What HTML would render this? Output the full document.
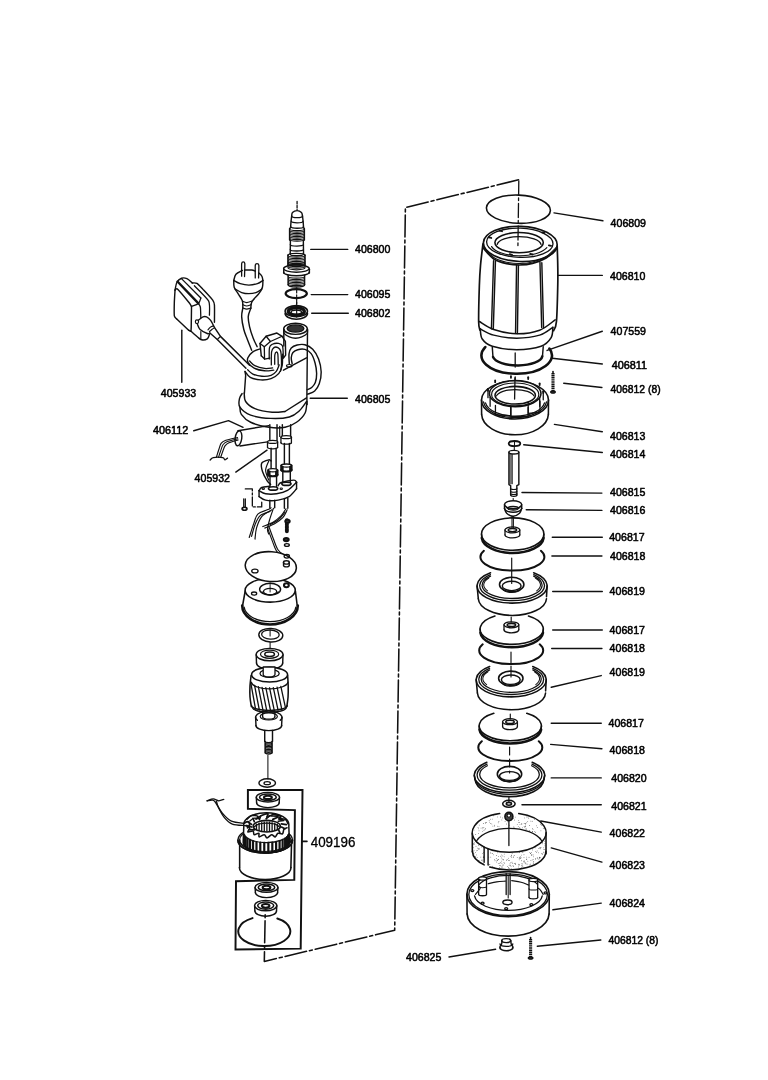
<!DOCTYPE html>
<html lang="en"><head><meta charset="utf-8"><title>Exploded view</title>
<style>
html,body{margin:0;padding:0;background:#fff}
body{width:768px;height:1080px;overflow:hidden}
svg{display:block;will-change:transform}
svg text{font-family:"Liberation Sans",sans-serif;fill:#000;stroke:#000}
</style></head><body>
<svg width="768" height="1080" viewBox="0 0 768 1080" fill="none" stroke="#111" stroke-linecap="round" stroke-linejoin="round">
<rect x="0" y="0" width="768" height="1080" fill="#fff" stroke="none"/>
<text x="610.6" y="227" font-size="11.8" textLength="35.4" lengthAdjust="spacingAndGlyphs" stroke-width="0.55">406809</text>
<text x="610" y="280.3" font-size="11.8" textLength="35.4" lengthAdjust="spacingAndGlyphs" stroke-width="0.55">406810</text>
<text x="610.6" y="334.9" font-size="11.8" textLength="35.4" lengthAdjust="spacingAndGlyphs" stroke-width="0.55">407559</text>
<text x="611.7" y="369.3" font-size="11.8" textLength="35.4" lengthAdjust="spacingAndGlyphs" stroke-width="0.55">406811</text>
<text x="610" y="439.5" font-size="11.8" textLength="35.4" lengthAdjust="spacingAndGlyphs" stroke-width="0.55">406813</text>
<text x="610" y="457.8" font-size="11.8" textLength="35.4" lengthAdjust="spacingAndGlyphs" stroke-width="0.55">406814</text>
<text x="610" y="496.4" font-size="11.8" textLength="35.4" lengthAdjust="spacingAndGlyphs" stroke-width="0.55">406815</text>
<text x="610" y="514.1" font-size="11.8" textLength="35.4" lengthAdjust="spacingAndGlyphs" stroke-width="0.55">406816</text>
<text x="609.2" y="541" font-size="11.8" textLength="35.4" lengthAdjust="spacingAndGlyphs" stroke-width="0.55">406817</text>
<text x="610" y="559.7" font-size="11.8" textLength="35.4" lengthAdjust="spacingAndGlyphs" stroke-width="0.55">406818</text>
<text x="609.6" y="595.1" font-size="11.8" textLength="35.4" lengthAdjust="spacingAndGlyphs" stroke-width="0.55">406819</text>
<text x="609.6" y="634.3" font-size="11.8" textLength="35.4" lengthAdjust="spacingAndGlyphs" stroke-width="0.55">406817</text>
<text x="609.6" y="652.2" font-size="11.8" textLength="35.4" lengthAdjust="spacingAndGlyphs" stroke-width="0.55">406818</text>
<text x="609.6" y="676.2" font-size="11.8" textLength="35.4" lengthAdjust="spacingAndGlyphs" stroke-width="0.55">406819</text>
<text x="608.5" y="727.4" font-size="11.8" textLength="35.4" lengthAdjust="spacingAndGlyphs" stroke-width="0.55">406817</text>
<text x="609.6" y="753.9" font-size="11.8" textLength="35.4" lengthAdjust="spacingAndGlyphs" stroke-width="0.55">406818</text>
<text x="611.25" y="781.6" font-size="11.8" textLength="35.4" lengthAdjust="spacingAndGlyphs" stroke-width="0.55">406820</text>
<text x="611.25" y="809.5" font-size="11.8" textLength="35.4" lengthAdjust="spacingAndGlyphs" stroke-width="0.55">406821</text>
<text x="609.6" y="837.3" font-size="11.8" textLength="35.4" lengthAdjust="spacingAndGlyphs" stroke-width="0.55">406822</text>
<text x="609.6" y="868.9" font-size="11.8" textLength="35.4" lengthAdjust="spacingAndGlyphs" stroke-width="0.55">406823</text>
<text x="609.6" y="906.8" font-size="11.8" textLength="35.4" lengthAdjust="spacingAndGlyphs" stroke-width="0.55">406824</text>
<text x="610.6" y="393" font-size="11.8" textLength="50" lengthAdjust="spacingAndGlyphs" stroke-width="0.55">406812 (8)</text>
<text x="608.5" y="944.3" font-size="11.8" textLength="50" lengthAdjust="spacingAndGlyphs" stroke-width="0.55">406812 (8)</text>
<text x="355" y="252.5" font-size="11.8" textLength="35.4" lengthAdjust="spacingAndGlyphs" stroke-width="0.55">406800</text>
<text x="355" y="297.7" font-size="11.8" textLength="35.4" lengthAdjust="spacingAndGlyphs" stroke-width="0.55">406095</text>
<text x="355" y="316.5" font-size="11.8" textLength="35.4" lengthAdjust="spacingAndGlyphs" stroke-width="0.55">406802</text>
<text x="355" y="402.5" font-size="11.8" textLength="35.4" lengthAdjust="spacingAndGlyphs" stroke-width="0.55">406805</text>
<text x="160.8" y="397" font-size="11.8" textLength="35.4" lengthAdjust="spacingAndGlyphs" stroke-width="0.55">405933</text>
<text x="152.9" y="433.5" font-size="11.8" textLength="35.4" lengthAdjust="spacingAndGlyphs" stroke-width="0.55">406112</text>
<text x="194.6" y="482" font-size="11.8" textLength="35.4" lengthAdjust="spacingAndGlyphs" stroke-width="0.55">405932</text>
<text x="406" y="961" font-size="11.8" textLength="35.4" lengthAdjust="spacingAndGlyphs" stroke-width="0.55">406825</text>
<text x="310.7" y="846.5" font-size="14.6" textLength="44.7" lengthAdjust="spacingAndGlyphs" stroke-width="0.3">409196</text>
<line x1="554" y1="212.9" x2="602.9" y2="220.8" stroke-width="1.43" />
<line x1="558.1" y1="275.4" x2="602.3" y2="275.4" stroke-width="1.43" />
<line x1="547.1" y1="350.4" x2="602.3" y2="331.25" stroke-width="1.43" />
<line x1="552.3" y1="358.3" x2="602.3" y2="364" stroke-width="1.43" />
<line x1="563.75" y1="383.3" x2="601.9" y2="387.5" stroke-width="1.43" />
<line x1="554.4" y1="424.4" x2="602.3" y2="431.7" stroke-width="1.43" />
<line x1="523.75" y1="444.8" x2="602.3" y2="452.5" stroke-width="1.43" />
<line x1="522" y1="492.5" x2="601.9" y2="493.1" stroke-width="1.43" />
<line x1="526.25" y1="509.8" x2="601.9" y2="510.4" stroke-width="1.43" />
<line x1="552.3" y1="537.3" x2="602.3" y2="537.3" stroke-width="1.43" />
<line x1="551.9" y1="556" x2="601.9" y2="556" stroke-width="1.43" />
<line x1="552.7" y1="591.5" x2="602.3" y2="591.5" stroke-width="1.43" />
<line x1="552.7" y1="630" x2="602.3" y2="630" stroke-width="1.43" />
<line x1="551.7" y1="648.5" x2="601.9" y2="648.5" stroke-width="1.43" />
<line x1="551.25" y1="687.3" x2="601.25" y2="675.6" stroke-width="1.43" />
<line x1="551.25" y1="723.3" x2="601.25" y2="723.3" stroke-width="1.43" />
<line x1="550.6" y1="744.4" x2="601.9" y2="748.75" stroke-width="1.43" />
<line x1="551.25" y1="777.9" x2="601.25" y2="777.9" stroke-width="1.43" />
<line x1="522" y1="804.8" x2="601.25" y2="804.8" stroke-width="1.43" />
<line x1="540.8" y1="821" x2="601.25" y2="832.1" stroke-width="1.43" />
<line x1="551.25" y1="847.9" x2="601.9" y2="862.1" stroke-width="1.43" />
<line x1="552.9" y1="909.8" x2="601.25" y2="903.1" stroke-width="1.43" />
<line x1="537.3" y1="946.25" x2="600.8" y2="940" stroke-width="1.43" />
<line x1="310.8" y1="249.4" x2="347.7" y2="249.4" stroke-width="1.43" />
<line x1="311.25" y1="294.6" x2="347.7" y2="294.6" stroke-width="1.43" />
<line x1="311.7" y1="313.3" x2="348.3" y2="313.3" stroke-width="1.43" />
<line x1="181.8" y1="330.2" x2="181.8" y2="382.3" stroke-width="1.43" />
<line x1="235.8" y1="472.1" x2="267" y2="450.2" stroke-width="1.43" />
<path d="M193.75 430.8 L228.5 420.6 L243.1 427.3" stroke-width="1.43" fill="none" />
<path d="M518.5 179.8 L405.4 207.5 L394.7 930.3 L264.3 961.4 L265.2 914" stroke-width="1.56" fill="none" stroke-dasharray="22 3 3 3"/>
<ellipse cx="295.5" cy="328.8" rx="11.8" ry="5.6" stroke-width="1.43" fill="#fff" />
<ellipse cx="295.5" cy="328.5" rx="8.4" ry="3.6" stroke-width="1.3" fill="#333" />
<path d="M283.82 329.77 C283.91 330.42 283.43 332.48 284.34 333.67 C285.26 334.87 287.43 336.17 289.29 336.93 C291.16 337.69 293.46 338.23 295.54 338.23 C297.62 338.23 299.88 337.69 301.79 336.93 C303.7 336.17 306.05 334.87 307 333.67 C307.95 332.48 307.43 330.42 307.52 329.77" stroke-width="1.3" fill="none" />
<path d="M283.82 329.11 L283.82 346.04" stroke-width="1.43" fill="none" />
<path d="M307.52 329.11 L306.87 398.12 L307.13 404.64" stroke-width="1.43" fill="none" />
<path d="M289.29 363.62 C289.25 361.99 288.71 356.46 289.03 353.85 C289.36 351.25 289.9 349.47 291.24 347.99 C292.59 346.52 294.83 345.54 297.1 345 C299.38 344.46 302.31 344.02 304.92 344.74 C307.52 345.46 310.45 346.91 312.73 349.3 C315.01 351.68 317.18 355.26 318.59 359.06 C320 362.86 321.08 367.96 321.19 372.08 C321.3 376.21 320.32 380.66 319.24 383.8 C318.15 386.95 316.64 389.23 314.68 390.96 C312.73 392.7 308.71 393.68 307.52 394.22" stroke-width="1.43" fill="none" />
<path d="M292.16 363.62 C292 362.64 291.11 359.61 291.24 357.76 C291.38 355.92 291.85 353.9 292.94 352.55 C294.02 351.21 295.76 350.21 297.76 349.69 C299.75 349.17 302.68 348.78 304.92 349.43 C307.15 350.08 309.47 351.34 311.17 353.59 C312.86 355.85 314.16 359.67 315.07 362.97 C315.98 366.27 316.59 370.13 316.64 373.39 C316.68 376.64 316.16 380.16 315.33 382.5 C314.51 384.84 313.03 386.25 311.69 387.45 C310.34 388.64 308 389.29 307.26 389.66" stroke-width="1.43" fill="none" />
<path d="M283.43 370.13 L306.48 357.76" stroke-width="1.43" fill="none" />
<ellipse cx="289.29" cy="365.83" rx="2.8" ry="1.3" stroke-width="1.17" fill="none" />
<path d="M261.3 355.81 L259.99 343.44 L266.11 336.28 L276.92 333.02 L282.13 336.28 L285.39 341.48 L285.65 355.16 L283.43 358.02" stroke-width="1.43" fill="none" />
<path d="M259.99 343.44 L264.29 346.69 L270.41 341.48 L266.11 336.28" stroke-width="1.3" fill="none" />
<path d="M264.29 346.69 L264.55 359.06 L261.3 355.81" stroke-width="1.3" fill="none" />
<path d="M270.41 341.48 L282.13 336.28" stroke-width="1.3" fill="none" />
<path d="M264.55 359.06 L269.76 358.02" stroke-width="1.3" fill="none" />
<path d="M269.24 359.06 C269.28 357.15 268.98 350.08 269.5 347.6 C270.02 345.13 270.85 344.91 272.36 344.22 C273.88 343.52 276.92 343.13 278.61 343.44 C280.31 343.74 281.74 343.65 282.52 346.04 C283.3 348.43 283.17 355.81 283.3 357.76" stroke-width="1.3" fill="none" />
<path d="M271.32 364.92 C271.37 362.75 271.15 354.79 271.58 351.9 C272.02 349.01 272.89 348.32 273.93 347.6 C274.97 346.89 276.7 347 277.83 347.6 C278.96 348.21 280.09 348.36 280.7 351.25 C281.31 354.14 281.52 361.56 281.48 364.92 C281.44 368.29 280.61 370.35 280.44 371.43" stroke-width="1.3" fill="none" />
<path d="M274.71 364.27 C274.73 362.71 274.58 356.94 274.84 354.9 C275.1 352.86 275.77 352.16 276.27 352.03 C276.77 351.9 277.51 351.97 277.83 354.11 C278.16 356.26 278.16 363.12 278.22 364.92" stroke-width="1.3" fill="none" />
<path d="M259.99 348.91 C258.8 349.41 254.85 350.43 252.83 351.9 C250.82 353.38 248.64 355.92 247.89 357.76 C247.13 359.61 247.23 361.23 248.28 362.97 C249.32 364.7 251.42 366.88 254.14 368.18 C256.85 369.48 261.3 370.46 264.55 370.78 C267.81 371.11 272.15 370.24 273.67 370.13" stroke-width="1.43" fill="none" />
<path d="M249.58 361.02 C250.45 361.78 252.29 364.34 254.79 365.57 C257.28 366.81 261.58 368.05 264.55 368.44 C267.53 368.83 271.28 368 272.62 367.92" stroke-width="1.3" fill="none" />
<path d="M245.02 371.43 C245.89 372.41 247.62 375.88 250.23 377.29 C252.83 378.7 257.17 379.68 260.65 379.9 C264.12 380.11 268.02 379.68 271.06 378.59 C274.1 377.51 277.03 375.56 278.88 373.39 C280.72 371.22 281.52 368.78 282.13 365.57 C282.74 362.36 282.46 356.02 282.52 354.11" stroke-width="1.43" fill="none" />
<path d="M247.62 369.74 C248.49 370.46 250.45 372.95 252.83 374.04 C255.22 375.12 258.91 376.03 261.95 376.25 C264.99 376.47 268.68 376.14 271.06 375.34 C273.45 374.54 274.93 373.17 276.27 371.43 C277.62 369.7 278.66 366.01 279.14 364.92" stroke-width="1.3" fill="none" />
<path d="M245.02 371.43 L245.67 375.34 L244.37 393.57" stroke-width="1.43" fill="none" />
<path d="M244.21 392.89 C244.45 394.33 243.85 398.86 245.64 401.49 C247.43 404.12 250.53 406.86 254.95 408.65 C259.37 410.44 267.13 411.76 272.14 412.23 C277.16 412.71 282.89 411.64 285.04 411.52" stroke-width="1.43" fill="none" />
<path d="M285.04 411.52 L306.53 397.91" stroke-width="1.43" fill="none" />
<path d="M242.06 393.61 C241.63 394.45 239.84 396.36 239.48 398.62 C239.12 400.89 238.05 404.47 239.91 407.22 C241.77 409.97 245.52 413.24 250.65 415.1 C255.79 416.96 264.26 418.09 270.71 418.4 C277.16 418.71 284.56 418.23 289.34 416.96 C294.11 415.7 296.5 413.38 299.36 410.8 C302.23 408.22 305.33 403.04 306.53 401.49" stroke-width="1.43" fill="none" />
<path d="M239.91 407.22 C240.15 408.41 239.55 411.88 241.34 414.38 C243.13 416.89 246 420.11 250.65 422.26 C255.31 424.41 263.55 426.44 269.28 427.28 C275.01 428.11 280.5 428.11 285.04 427.28 C289.57 426.44 293.16 424.65 296.5 422.26 C299.84 419.88 303.38 416.41 305.09 412.95 C306.81 409.49 306.53 403.4 306.81 401.49" stroke-width="1.43" fill="none" />
<path d="M297.08 201.46 L297.08 209.79" stroke-width="1.3" fill="none" stroke-dasharray="2.5 1.5"/>
<path d="M291.67 216.04 C291.81 215.45 291.6 213.4 292.5 212.5 C293.4 211.6 295.59 210.62 297.08 210.62 C298.58 210.62 300.56 211.6 301.46 212.5 C302.36 213.4 302.33 215.45 302.5 216.04" stroke-width="1.43" fill="none" />
<path d="M302.5 216.04 A5.42 1.6 0 0 1 291.67 216.04" stroke-width="1.3" fill="none" />
<path d="M302.92 221.25 A5.83 1.6 0 0 1 291.25 221.25" stroke-width="1.3" fill="none" />
<path d="M303.33 226.67 A6.25 1.6 0 0 1 290.83 226.67" stroke-width="1.3" fill="none" />
<path d="M291.67 216.04 L291.04 221.25 L290.62 227.08 L289.79 228.75" stroke-width="1.43" fill="none" />
<path d="M302.5 216.04 L303.12 221.25 L303.54 227.08 L304.17 228.75" stroke-width="1.43" fill="none" />
<path d="M304.4 229 A7.4 1.6 0 0 1 289.6 229" stroke-width="1.1" fill="none" />
<path d="M304.4 230.5 A7.4 1.6 0 0 1 289.6 230.5" stroke-width="1.1" fill="none" />
<path d="M304.4 232 A7.4 1.6 0 0 1 289.6 232" stroke-width="1.1" fill="none" />
<path d="M304.4 233.5 A7.4 1.6 0 0 1 289.6 233.5" stroke-width="1.1" fill="none" />
<path d="M304.4 235 A7.4 1.6 0 0 1 289.6 235" stroke-width="1.1" fill="none" />
<path d="M304.4 236.5 A7.4 1.6 0 0 1 289.6 236.5" stroke-width="1.1" fill="none" />
<path d="M304.4 238 A7.4 1.6 0 0 1 289.6 238" stroke-width="1.1" fill="none" />
<path d="M304.4 239.5 A7.4 1.6 0 0 1 289.6 239.5" stroke-width="1.1" fill="none" />
<path d="M289.58 228.75 L289.58 240" stroke-width="1.43" fill="none" />
<path d="M304.38 228.75 L304.38 240" stroke-width="1.43" fill="none" />
<path d="M303.48 244.58 A6.6 1.6 0 0 1 290.27 244.58" stroke-width="1.3" fill="none" />
<path d="M303.48 249.38 A6.6 1.6 0 0 1 290.27 249.38" stroke-width="1.3" fill="none" />
<path d="M303.48 254.17 A6.6 1.6 0 0 1 290.27 254.17" stroke-width="1.3" fill="none" />
<path d="M290.42 240 L290.21 254.17" stroke-width="1.43" fill="none" />
<path d="M303.33 240 L303.54 254.17" stroke-width="1.43" fill="none" />
<path d="M305 255.5 A8.5 1.6 0 0 1 288 255.5" stroke-width="1.1" fill="none" />
<path d="M305 257 A8.5 1.6 0 0 1 288 257" stroke-width="1.1" fill="none" />
<path d="M305 258.5 A8.5 1.6 0 0 1 288 258.5" stroke-width="1.1" fill="none" />
<path d="M305 260 A8.5 1.6 0 0 1 288 260" stroke-width="1.1" fill="none" />
<path d="M305 261.5 A8.5 1.6 0 0 1 288 261.5" stroke-width="1.1" fill="none" />
<path d="M305 263 A8.5 1.6 0 0 1 288 263" stroke-width="1.1" fill="none" />
<path d="M305 264.5 A8.5 1.6 0 0 1 288 264.5" stroke-width="1.1" fill="none" />
<path d="M305 266 A8.5 1.6 0 0 1 288 266" stroke-width="1.1" fill="none" />
<path d="M287.92 255 L287.92 266.67" stroke-width="1.43" fill="none" />
<path d="M305 255 L305 266.67" stroke-width="1.43" fill="none" />
<path d="M288 255.2 A8.5 1.8 0 0 1 305 255.2" stroke-width="1.3" fill="none" />
<ellipse cx="296.4" cy="268.6" rx="12.8" ry="3.6" stroke-width="1.43" fill="#fff" />
<path d="M309.2 272.2 A12.8 3.6 0 0 1 283.6 272.2" stroke-width="1.43" fill="none" />
<path d="M283.75 269.17 L283.75 272.92" stroke-width="1.43" fill="none" />
<path d="M309.38 269.17 L309.38 272.92" stroke-width="1.43" fill="none" />
<path d="M305.1 267.6 A8.6 2.2 0 0 1 287.9 267.6" stroke-width="1.17" fill="none" />
<path d="M305 262 A8.5 1.6 0 0 1 288 262" stroke-width="1.1" fill="none" />
<path d="M305 263.5 A8.5 1.6 0 0 1 288 263.5" stroke-width="1.1" fill="none" />
<path d="M305 265 A8.5 1.6 0 0 1 288 265" stroke-width="1.1" fill="none" />
<path d="M305 266.5 A8.5 1.6 0 0 1 288 266.5" stroke-width="1.1" fill="none" />
<path d="M304.6 276.5 A8.2 1.6 0 0 1 288.2 276.5" stroke-width="1.1" fill="none" />
<path d="M304.6 278 A8.2 1.6 0 0 1 288.2 278" stroke-width="1.1" fill="none" />
<path d="M304.6 279.5 A8.2 1.6 0 0 1 288.2 279.5" stroke-width="1.1" fill="none" />
<path d="M304.6 281 A8.2 1.6 0 0 1 288.2 281" stroke-width="1.1" fill="none" />
<path d="M304.6 282.5 A8.2 1.6 0 0 1 288.2 282.5" stroke-width="1.1" fill="none" />
<path d="M304.6 284 A8.2 1.6 0 0 1 288.2 284" stroke-width="1.1" fill="none" />
<path d="M288.12 275.42 L288.12 284.79" stroke-width="1.43" fill="none" />
<path d="M304.58 275.42 L304.58 284.79" stroke-width="1.43" fill="none" />
<path d="M304.6 284.8 A8.2 2.2 0 0 1 288.2 284.8" stroke-width="1.43" fill="none" />
<path d="M296.67 287.92 L296.67 306.67" stroke-width="1.17" fill="none" stroke-dasharray="5 2 1.5 2"/>
<ellipse cx="296.25" cy="293.6" rx="10.6" ry="4.5" stroke-width="2.21" fill="none" />
<ellipse cx="296.3" cy="311.2" rx="11.2" ry="5.6" stroke-width="1.56" fill="#fff" />
<path d="M307.5 313.6 A11.2 5.6 0 0 1 285.1 313.6" stroke-width="1.56" fill="none" />
<ellipse cx="296.3" cy="311.4" rx="8" ry="3.8" stroke-width="3.38" fill="#fff" />
<ellipse cx="296.3" cy="312.2" rx="5.2" ry="2.2" stroke-width="1.3" fill="none" />
<path d="M296.67 302.5 L296.67 317.08" stroke-width="1.17" fill="none" />
<path d="M175.04 290.1 C174.97 291.32 174.4 299.7 174.33 302.28 C174.26 304.86 174.11 314.24 174.33 315.89 C174.54 317.54 176.26 318.47 176.48 318.75" stroke-width="1.43" fill="none" />
<path d="M176.48 318.75 L188.65 330.21" stroke-width="1.43" fill="none" />
<path d="M188.65 330.21 C188.87 330.32 190.54 331.58 190.8 331.22 C191.06 330.86 191.16 329.1 191.23 326.63 C191.3 324.17 191.49 308.58 191.52 306.58" stroke-width="1.43" fill="none" />
<path d="M191.52 306.58 C191.34 306.28 190.5 304.43 189.37 302.99 C188.24 301.56 179.04 290.54 177.91 289.38 C176.77 288.23 176 289.04 175.76 289.1 C175.52 289.16 175.1 290.02 175.04 290.1" stroke-width="1.43" fill="none" />
<path d="M175.04 290.1 C175.35 288.79 175.83 284.2 176.91 282.22 C177.98 280.24 179.82 278.81 181.49 278.21 C183.16 277.61 185.14 277.85 186.93 278.64 C188.72 279.43 191.35 282.22 192.23 282.94" stroke-width="1.43" fill="none" />
<path d="M177.48 281.5 L198.4 303.42" stroke-width="2.34" fill="none" />
<path d="M181.49 278.64 L200.83 297.98" stroke-width="1.3" fill="none" />
<path d="M191.52 306.29 C192.66 305.81 196.84 304.81 198.4 303.42 C199.95 302.04 200.43 298.89 200.83 297.98" stroke-width="1.3" fill="none" />
<path d="M198.4 303.42 C198.6 303.81 200.16 305.83 200.4 307.29 C200.64 308.75 200.79 316.96 200.83 318.04" stroke-width="1.3" fill="none" />
<path d="M192.23 282.94 C192.79 282.99 195.71 282.61 196.96 283.37 C198.22 284.12 201.14 287.43 202.98 289.38 C204.82 291.34 211.38 298.29 212.72 300.13 C214.06 301.97 214.24 302.55 214.44 305.14 C214.64 307.73 214.44 320.33 214.44 322.34" stroke-width="1.43" fill="none" />
<path d="M194.38 285.8 C195.82 287.34 207.21 298.19 208.71 301.13 C210.21 304.07 209.36 313.77 209.43 315.17" stroke-width="1.3" fill="none" />
<path d="M209.43 334.51 C209.07 335.23 208.59 337.93 207.28 338.81 C205.96 339.69 203.17 340.12 201.55 339.81 C199.92 339.5 199.33 338.43 197.54 336.95 C195.74 335.47 191.92 331.93 190.8 330.93" stroke-width="1.43" fill="none" />
<path d="M200.83 331.65 L200.83 338.81" stroke-width="1.17" fill="none" />
<ellipse cx="196.96" cy="321.76" rx="1.6" ry="1.9" stroke-width="1.17" fill="none" />
<path d="M198.4 320.19 C199.16 319.64 201.62 317.44 202.98 316.89 C204.34 316.34 205.32 316.34 206.56 316.89 C207.8 317.44 209.12 318.44 210.43 320.19 C211.74 321.93 213.77 326.16 214.44 327.35" stroke-width="1.43" fill="none" />
<path d="M197.54 324.48 C197.97 325.32 198.49 327.99 200.11 329.5 C201.74 331 205.65 332.91 207.28 333.51 C208.9 334.11 209.43 333.15 209.86 333.08" stroke-width="1.43" fill="none" />
<path d="M207.99 329.79 C208.35 329.38 209.26 327.99 210.14 327.35 C211.03 326.7 212.77 326.16 213.3 325.92" stroke-width="1.17" fill="none" />
<path d="M209.43 331.65 C209.83 331.29 211.03 330.14 211.86 329.5 C212.7 328.85 214.01 328.07 214.44 327.78" stroke-width="1.17" fill="none" />
<path d="M209.86 333.08 L217.31 339.53 L245.96 368.18" stroke-width="1.43" fill="none" />
<path d="M214.73 327.78 L220.46 336.38 L249.54 365.32" stroke-width="1.43" fill="none" />
<path d="M217.31 339.53 L220.46 336.38" stroke-width="1.17" fill="none" />
<path d="M241.66 276.2 C241.66 275.15 241.53 264.79 241.66 263.6 C241.79 262.4 242.98 261.88 243.24 261.88 C243.5 261.88 244.71 262.38 244.81 263.6 C244.92 264.81 244.55 275.42 244.53 276.49" stroke-width="1.3" fill="none" />
<path d="M255.27 277.92 C255.27 276.87 255.13 266.51 255.27 265.32 C255.42 264.12 256.69 263.6 256.99 263.6 C257.29 263.6 258.72 264.12 258.85 265.32 C258.99 266.51 258.59 276.87 258.57 277.92" stroke-width="1.3" fill="none" />
<path d="M233.78 280.5 C234.14 279.47 234.5 276.01 235.93 274.34 C237.36 272.67 241.3 271.12 242.38 270.47" stroke-width="1.43" fill="none" />
<path d="M244.53 270.04 C245.72 270.04 249.9 269.88 251.69 270.04 C253.48 270.21 254.68 270.88 255.27 271.05" stroke-width="1.43" fill="none" />
<path d="M258.85 272.91 C259.38 273.51 261.34 275.22 262.01 276.49 C262.67 277.76 262.72 279.83 262.87 280.5" stroke-width="1.43" fill="none" />
<path d="M233.78 280.5 C234.86 281.03 237.72 282.89 240.23 283.65 C242.74 284.42 245.96 285.09 248.83 285.09 C251.69 285.09 255.08 284.42 257.42 283.65 C259.76 282.89 261.96 281.03 262.87 280.5" stroke-width="1.43" fill="none" />
<path d="M235.21 288.95 C236.29 289.55 239.39 291.75 241.66 292.54 C243.93 293.32 246.44 293.68 248.83 293.68 C251.21 293.68 253.79 293.32 255.99 292.54 C258.19 291.75 261 289.55 262.01 288.95" stroke-width="1.3" fill="none" />
<path d="M233.78 280.5 C233.85 281.62 233.5 285.04 234.21 287.23 C234.93 289.43 236.72 291.41 238.08 293.68 C239.44 295.95 241.59 298.46 242.38 300.85 C243.17 303.23 242.74 306.81 242.81 308.01" stroke-width="1.43" fill="none" />
<path d="M262.87 280.5 C262.79 281.62 263.1 285.04 262.44 287.23 C261.77 289.43 260.6 291.29 258.85 293.68 C257.11 296.07 253.31 299.17 251.98 301.56 C250.64 303.95 251.02 306.93 250.83 308.01" stroke-width="1.43" fill="none" />
<path d="M242.38 301.13 C243.09 301.37 245.12 302.56 246.68 302.56 C248.23 302.56 250.85 301.37 251.69 301.13" stroke-width="1.17" fill="none" />
<path d="M242.81 304.57 C243.45 304.81 245.29 306 246.68 306 C248.06 306 250.38 304.81 251.12 304.57" stroke-width="1.17" fill="none" />
<path d="M242.81 308.01 C243.45 308.2 245.34 309.15 246.68 309.15 C248.01 309.15 250.14 308.2 250.83 308.01" stroke-width="1.17" fill="none" />
<path d="M242.81 308.3 C242.62 309.68 241.49 313.07 241.66 316.6 C241.83 320.14 242.86 325.68 243.81 329.5 C244.77 333.32 246.08 336.06 247.39 339.53 C248.71 342.99 250.97 348.48 251.69 350.27" stroke-width="1.43" fill="none" />
<path d="M250.83 308.3 C250.4 309.68 248.47 313.55 248.25 316.6 C248.04 319.66 248.73 323.05 249.54 326.63 C250.35 330.21 251.86 334.75 253.12 338.09 C254.39 341.44 256.47 345.26 257.13 346.69" stroke-width="1.43" fill="none" />
<line x1="310.2" y1="398.3" x2="347.3" y2="398.3" stroke-width="1.43" />
<ellipse cx="238.44" cy="438.28" rx="3.3" ry="7.5" stroke-width="1.43" fill="#fff" transform="rotate(8 238.44 438.28)" />
<path d="M237.97 430.78 L268.75 425.62" stroke-width="1.43" fill="none" />
<path d="M240 445.94 L267.5 441.88" stroke-width="1.43" fill="none" />
<path d="M237.5 437.5 C235.94 437.88 227.97 439.52 225.78 440.31 C223.59 441.1 222.03 442.19 221.09 443.44 C220.16 444.69 219.38 447.85 218.75 449.69 C218.12 451.52 216.72 456.19 216.41 457.19" stroke-width="1.17" fill="none" />
<path d="M238.12 440 C236.9 440.38 230.66 442.02 228.91 442.81 C227.16 443.6 225.81 444.81 225 445.94 C224.19 447.06 223.4 449.71 222.81 451.25 C222.23 452.79 220.92 456.67 220.62 457.5" stroke-width="1.17" fill="none" />
<path d="M237.81 438.75 C236.42 439.12 229.32 440.77 227.34 441.56 C225.36 442.35 223.84 443.5 222.97 444.69 C222.09 445.88 221.39 448.76 220.78 450.47 C220.18 452.18 218.75 456.56 218.44 457.5" stroke-width="1.04" fill="none" />
<path d="M210.16 460 C210.68 459.61 211.2 458.05 213.28 457.66 C215.36 457.27 220.7 457.29 222.66 457.66 C224.61 458.02 224.19 459.77 225 459.84 C225.81 459.92 227.08 458.41 227.5 458.12" stroke-width="1.3" fill="none" />
<path d="M269.84 424.69 L269.84 441.88" stroke-width="1.43" fill="none" />
<path d="M277.03 424.69 L277.03 441.88" stroke-width="1.43" fill="none" />
<path d="M282.34 424.69 L282.34 437.19" stroke-width="1.43" fill="none" />
<path d="M290.62 424.69 L290.62 437.19" stroke-width="1.43" fill="none" />
<path d="M279.69 426.25 L279.69 436.41" stroke-width="1.17" fill="none" />
<ellipse cx="272.58" cy="441.88" rx="5.08" ry="1.5" stroke-width="1.3" fill="#fff" />
<path d="M277.66 447.34 A5.08 1.5 0 0 1 267.5 447.34" stroke-width="1.3" fill="none" />
<path d="M267.5 441.88 L267.5 447.34" stroke-width="1.3" fill="none" />
<path d="M277.66 441.88 L277.66 447.34" stroke-width="1.3" fill="none" />
<ellipse cx="286.17" cy="437.19" rx="5.23" ry="1.5" stroke-width="1.3" fill="#fff" />
<path d="M291.41 442.66 A5.23 1.5 0 0 1 280.94 442.66" stroke-width="1.3" fill="none" />
<path d="M280.94 437.19 L280.94 442.66" stroke-width="1.3" fill="none" />
<path d="M291.41 437.19 L291.41 442.66" stroke-width="1.3" fill="none" />
<path d="M271.09 448.12 L271.09 470.78" stroke-width="1.43" fill="none" />
<path d="M276.09 448.12 L276.09 470.78" stroke-width="1.43" fill="none" />
<path d="M284.38 443.44 L284.38 466.09" stroke-width="1.43" fill="none" />
<path d="M289.38 443.44 L289.38 466.09" stroke-width="1.43" fill="none" />
<path d="M271.09 460.94 C270.78 460.79 270 459.55 268.75 459.84 C267.5 460.14 262.55 461.56 261.72 463.12 C260.89 464.69 261.77 469.19 262.5 471.56 C263.23 473.94 266.1 479.23 267.19 480.94 C268.27 482.65 270.17 483.92 270.62 484.38" stroke-width="1.43" fill="none" />
<path d="M268.75 460.94 C268.23 462.5 265.62 467.11 265.62 470.31 C265.62 473.52 268.23 478.52 268.75 480.16" stroke-width="1.17" fill="none" />
<ellipse cx="272.81" cy="470.31" rx="4.69" ry="1.6" stroke-width="1.3" fill="#fff" />
<path d="M268.12 470.31 L268.12 474.69" stroke-width="2.08" fill="none" />
<path d="M277.5 470.31 L277.5 474.69" stroke-width="2.08" fill="none" />
<path d="M277.5 474.69 A4.69 1.6 0 0 1 268.12 474.69" stroke-width="2.08" fill="none" />
<path d="M269.38 471.56 L269.38 475.31" stroke-width="2.34" fill="none" />
<path d="M276.25 471.56 L276.25 475.31" stroke-width="2.34" fill="none" />
<ellipse cx="286.41" cy="465.62" rx="5.16" ry="1.6" stroke-width="1.3" fill="#fff" />
<path d="M281.25 465.62 L281.25 470" stroke-width="2.08" fill="none" />
<path d="M291.56 465.62 L291.56 470" stroke-width="2.08" fill="none" />
<path d="M291.56 470 A5.16 1.6 0 0 1 281.25 470" stroke-width="2.08" fill="none" />
<path d="M282.5 466.88 L282.5 470.62" stroke-width="2.34" fill="none" />
<path d="M290.31 466.88 L290.31 470.62" stroke-width="2.34" fill="none" />
<path d="M270 475.47 L270 487.5" stroke-width="1.43" fill="none" />
<path d="M276.56 475.47 L276.56 487.5" stroke-width="1.43" fill="none" />
<path d="M282.81 470.78 L282.81 482.81" stroke-width="1.43" fill="none" />
<path d="M290.31 470.78 L290.31 482.81" stroke-width="1.43" fill="none" />
<path d="M259.06 490.62 C259.51 490.1 259.97 488.23 261.72 487.5 C263.46 486.77 268.23 486.46 269.53 486.25" stroke-width="1.43" fill="none" />
<path d="M278.12 485.62 C278.65 485.1 278.65 483.41 281.25 482.5 C283.85 481.59 291.2 480.21 293.75 480.16 C296.3 480.1 296.09 481.85 296.56 482.19" stroke-width="1.43" fill="none" />
<path d="M259.06 490.62 C260.16 491.15 262.71 493.23 265.62 493.75 C268.54 494.27 272.92 494.32 276.56 493.75 C280.21 493.18 284.17 492.24 287.5 490.31 C290.83 488.39 295.05 483.54 296.56 482.19" stroke-width="1.43" fill="none" />
<path d="M259.06 496.56 C260.16 497.16 262.45 499.56 265.62 500.16 C268.8 500.76 274.22 500.76 278.12 500.16 C282.03 499.56 285.99 498.46 289.06 496.56 C292.14 494.66 295.31 490.05 296.56 488.75" stroke-width="1.43" fill="none" />
<path d="M259.06 490.62 L259.06 496.56" stroke-width="1.43" fill="none" />
<path d="M296.56 482.19 L296.56 488.75" stroke-width="1.43" fill="none" />
<ellipse cx="273.12" cy="488.44" rx="4.6" ry="1.7" stroke-width="1.69" fill="#fff" />
<ellipse cx="286.41" cy="483.75" rx="4.6" ry="1.7" stroke-width="1.69" fill="#fff" />
<ellipse cx="263.28" cy="488.75" rx="1.2" ry="0.7" stroke-width="1.04" fill="none" />
<ellipse cx="281.25" cy="488.75" rx="1.2" ry="0.7" stroke-width="1.04" fill="none" />
<path d="M269.84 500.31 L269.84 507.81" stroke-width="1.43" fill="none" />
<path d="M274.69 500.31 L274.69 507.81" stroke-width="1.43" fill="none" />
<path d="M284.38 498.44 L284.38 508.28" stroke-width="1.43" fill="none" />
<path d="M287.81 498.44 L287.81 508.28" stroke-width="1.43" fill="none" />
<path d="M243.75 498.91 L243.75 507.5" stroke-width="1.3" fill="none" />
<path d="M245.31 498.91 L245.31 507.5" stroke-width="1.3" fill="none" />
<ellipse cx="244.53" cy="508.75" rx="2.4" ry="1.5" stroke-width="1.69" fill="none" />
<path d="M245.31 488.91 L252.34 488.91 L252.34 506.88 L261.72 506.88 L261.72 501.25" stroke-width="1.3" fill="none" stroke-dasharray="9 2 2 2"/>
<path d="M271.09 507.81 C270.44 508.15 269.4 508.8 267.19 509.84 C264.97 510.89 260.03 511.85 257.81 514.06 C255.6 516.28 255.34 519.22 253.91 523.12 C252.47 527.03 250 535.1 249.22 537.5" stroke-width="1.17" fill="none" />
<path d="M271.88 509.84 C270.18 510.96 264.27 513.57 261.72 516.56 C259.17 519.56 257.68 524.06 256.56 527.81 C255.44 531.56 255.26 537.19 255 539.06" stroke-width="1.17" fill="none" />
<path d="M270 511.41 C268.36 512.11 262.66 513.41 260.16 515.62 C257.66 517.84 256.43 521.22 255 524.69 C253.57 528.15 252.14 534.45 251.56 536.41" stroke-width="1.17" fill="none" />
<path d="M273.44 508.28 C272.79 510.23 270.52 516.48 269.53 520 C268.54 523.52 267.63 527.03 267.5 529.38 C267.37 531.72 268.54 533.28 268.75 534.06" stroke-width="1.17" fill="none" />
<path d="M285.94 508.75 C285.16 509.9 283.33 513.44 281.25 515.62 C279.17 517.81 276.51 520.05 273.44 521.88 C270.36 523.7 264.58 525.78 262.81 526.56" stroke-width="1.17" fill="none" />
<path d="M287.19 509.84 C286.46 511.15 284.84 515.39 282.81 517.66 C280.78 519.92 277.99 521.69 275 523.44 C272.01 525.18 266.54 527.34 264.84 528.12" stroke-width="1.17" fill="none" />
<path d="M285.16 512.19 C283.98 513.49 280.6 517.97 278.12 520 C275.65 522.03 271.61 523.65 270.31 524.38" stroke-width="1.17" fill="none" />
<path d="M268.75 526.25 C269.53 528.39 271.88 535.1 273.44 539.06 C275 543.02 276.17 547.14 278.12 550 C280.08 552.86 283.2 554.87 285.16 556.25 C287.11 557.63 289.06 557.94 289.84 558.28" stroke-width="1.17" fill="none" />
<path d="M267.5 527.81 C268.28 529.95 270.62 536.67 272.19 540.62 C273.75 544.58 274.84 548.75 276.88 551.56 C278.91 554.38 283.12 556.51 284.38 557.5" stroke-width="1.17" fill="none" />
<path d="M286.88 520.31 L286.88 531.25" stroke-width="3.9" fill="none" stroke-dasharray="2 1"/>
<ellipse cx="287.5" cy="521.25" rx="2.3" ry="1.6" stroke-width="1.82" fill="#333" />
<ellipse cx="286.25" cy="539.53" rx="2.4" ry="1.6" stroke-width="2.08" fill="#333" />
<ellipse cx="286.88" cy="545" rx="2.4" ry="1.4" stroke-width="1.43" fill="none" />
<ellipse cx="270.2" cy="590.3" rx="25.1" ry="11.8" stroke-width="1.56" fill="none" />
<path d="M245.2 591 L242.6 605.5" stroke-width="1.56" fill="none" />
<path d="M295.4 591 L297.2 605.5" stroke-width="1.56" fill="none" />
<path d="M297.8 605.5 A27.8 19 0 0 1 242.2 605.5" stroke-width="2.6" fill="none" />
<path d="M295.9 607.18 A26 15.8 0 0 1 244.1 607.18" stroke-width="1.3" fill="none" />
<ellipse cx="270.1" cy="589.2" rx="10.5" ry="5.9" stroke-width="1.43" fill="none" />
<ellipse cx="270.1" cy="591.6" rx="6.6" ry="3.3" stroke-width="1.3" fill="none" />
<path d="M278.18 591.77 A8.6 4.6 0 0 1 262.02 591.77" stroke-width="1.17" fill="none" />
<ellipse cx="254.1" cy="593.6" rx="2.6" ry="1.6" stroke-width="1.3" fill="none" />
<ellipse cx="286.4" cy="585.3" rx="2.4" ry="2" stroke-width="2.08" fill="none" />
<line x1="270.1" y1="583" x2="270.1" y2="592" stroke-width="0.91" />
<ellipse cx="270.8" cy="566.6" rx="25.6" ry="14.9" stroke-width="1.56" fill="#fff" transform="rotate(4 270.8 566.6)" />
<ellipse cx="254.9" cy="571" rx="3.2" ry="1.9" stroke-width="1.3" fill="none" />
<ellipse cx="286.4" cy="562.4" rx="2.9" ry="1.7" stroke-width="1.43" fill="none" />
<line x1="283.5" y1="562.4" x2="283.5" y2="565.2" stroke-width="1.3" />
<line x1="289.3" y1="562.4" x2="289.3" y2="565.2" stroke-width="1.3" />
<path d="M289.3 565.2 A2.9 1.7 0 0 1 283.5 565.2" stroke-width="1.3" fill="none" />
<ellipse cx="286.8" cy="556.3" rx="2.7" ry="1.8" stroke-width="1.3" fill="none" />
<ellipse cx="270.8" cy="635.2" rx="12" ry="6.8" stroke-width="1.43" fill="none" transform="rotate(3 270.8 635.2)" />
<ellipse cx="270.4" cy="634.6" rx="8.8" ry="4.6" stroke-width="1.3" fill="none" transform="rotate(3 270.4 634.6)" />
<line x1="270.1" y1="630" x2="270.1" y2="636" stroke-width="1.04" />
<line x1="270.1" y1="642.5" x2="270.1" y2="648" stroke-width="1.04" />
<path d="M256.2 654.6 L256.5 662.9" stroke-width="1.43" fill="none" />
<path d="M283 654.6 L282.7 662.9" stroke-width="1.43" fill="none" />
<path d="M282.7 662.9 A13.1 6.2 0 0 1 256.5 662.9" stroke-width="1.43" fill="none" />
<ellipse cx="269.6" cy="654.6" rx="13.4" ry="6.2" stroke-width="1.43" fill="#fff" />
<ellipse cx="269.6" cy="654.2" rx="9.11" ry="4.09" stroke-width="1.17" fill="none" />
<ellipse cx="269.6" cy="654.2" rx="4.82" ry="2.23" stroke-width="1.56" fill="none" />
<path d="M264.44 667.78 L264.44 673.33" stroke-width="1.3" fill="none" />
<path d="M274.86 667.78 L274.86 673.33" stroke-width="1.3" fill="none" />
<ellipse cx="269.6" cy="674.7" rx="18" ry="7.3" stroke-width="1.56" fill="#fff" />
<ellipse cx="269.6" cy="673.4" rx="9.6" ry="4" stroke-width="1.3" fill="none" />
<path d="M263.2 667 L263.2 674.6 A5.9 2.4 0 0 0 275 674.6 L275 667 Z" fill="#fff" stroke-width="1.3"/>
<path d="M251.11 675.42 C250.93 677.15 250.19 682.25 250 685.83 C249.81 689.42 249.77 693.47 250 696.94 C250.23 700.42 251.16 705.05 251.39 706.67" stroke-width="1.56" fill="none" />
<path d="M287.64 675.42 C287.73 677.15 288.12 682.25 288.19 685.83 C288.26 689.42 288.29 693.47 288.06 696.94 C287.82 700.42 287.01 705.05 286.81 706.67" stroke-width="1.56" fill="none" />
<path d="M287.93 682.24 A18.4 7.3 0 0 1 251.27 682.24" stroke-width="1.3" fill="none" />
<path d="M250.83 683.19 L255.56 709.05" stroke-width="1.3" fill="none" />
<path d="M254.58 685.47 L259.31 709.98" stroke-width="1.3" fill="none" />
<path d="M258.33 686.61 L263.06 710.52" stroke-width="1.3" fill="none" />
<path d="M262.08 687.3 L266.81 710.78" stroke-width="1.3" fill="none" />
<path d="M265.83 687.67 L270.56 710.82" stroke-width="1.3" fill="none" />
<path d="M269.58 687.78 L274.31 710.63" stroke-width="1.3" fill="none" />
<path d="M273.33 687.63 L278.06 710.19" stroke-width="1.3" fill="none" />
<path d="M277.08 687.22 L281.81 709.42" stroke-width="1.3" fill="none" />
<path d="M280.83 686.48 L285.56 708.05" stroke-width="1.3" fill="none" />
<path d="M287.2 705.5 A17.8 5 0 0 1 251.6 705.5" stroke-width="1.43" fill="none" />
<path d="M286.34 707.74 A17 5 0 0 1 252.46 707.74" stroke-width="1.3" fill="none" />
<path d="M257.37 720.2 A13.2 6 0 1 1 280.23 720.2" stroke-width="1.43" fill="none" />
<path d="M255.6 717.5 L256 725.6" stroke-width="1.43" fill="none" />
<path d="M282 717.5 L281.6 725.6" stroke-width="1.43" fill="none" />
<path d="M281.7 725.4 A12.9 5.2 0 0 1 255.9 725.4" stroke-width="1.43" fill="none" />
<ellipse cx="268.8" cy="716.4" rx="8.6" ry="3.6" stroke-width="1.17" fill="none" />
<path d="M262.64 711.53 L262.64 717.08" stroke-width="1.3" fill="none" />
<path d="M274.86 711.53 L274.86 717.08" stroke-width="1.3" fill="none" />
<path d="M274.9 716.8 A6.1 2.4 0 0 1 262.7 716.8" stroke-width="1.17" fill="none" />
<path d="M264.72 730.56 L264.72 741.39" stroke-width="1.43" fill="none" />
<path d="M272.5 730.56 L272.5 741.39" stroke-width="1.43" fill="none" />
<path d="M272 741.5 A3.4 1 0 0 1 265.2 741.5" stroke-width="1.17" fill="none" />
<path d="M272 742.9 A3.4 1 0 0 1 265.2 742.9" stroke-width="1.17" fill="none" />
<path d="M272 744.3 A3.4 1 0 0 1 265.2 744.3" stroke-width="1.17" fill="none" />
<path d="M272 745.7 A3.4 1 0 0 1 265.2 745.7" stroke-width="1.17" fill="none" />
<path d="M272 747.1 A3.4 1 0 0 1 265.2 747.1" stroke-width="1.17" fill="none" />
<path d="M272 748.5 A3.4 1 0 0 1 265.2 748.5" stroke-width="1.17" fill="none" />
<path d="M272 749.9 A3.4 1 0 0 1 265.2 749.9" stroke-width="1.17" fill="none" />
<path d="M272 751.3 A3.4 1 0 0 1 265.2 751.3" stroke-width="1.17" fill="none" />
<path d="M265.14 741.39 L265.14 752.78" stroke-width="1.3" fill="none" />
<path d="M272.08 741.39 L272.08 752.78" stroke-width="1.3" fill="none" />
<path d="M272 752.6 A3.4 1.4 0 0 1 265.2 752.6" stroke-width="1.3" fill="none" />
<line x1="267.9" y1="755.5" x2="267.9" y2="779" stroke-width="1.04" />
<ellipse cx="267.2" cy="783" rx="8.3" ry="4.2" stroke-width="1.43" fill="none" />
<ellipse cx="267.2" cy="783.2" rx="3.2" ry="1.5" stroke-width="1.3" fill="none" />
<path d="M247.9 808.8 L247.9 790 L302.5 790 L300.7 948.6 L235.5 949.5 L236 881.2 L294.3 879.9 L294.9 810.1 Z" stroke-width="1.95" fill="none" stroke-linejoin="miter"/>
<line x1="302.4" y1="841.4" x2="307" y2="841.4" stroke-width="1.56" />
<path d="M256.3 797.2 L256.6 802.8" stroke-width="1.43" fill="none" />
<path d="M279.5 797.2 L279.2 802.8" stroke-width="1.43" fill="none" />
<path d="M279.2 802.8 A11.3 4.8 0 0 1 256.6 802.8" stroke-width="1.43" fill="none" />
<ellipse cx="267.9" cy="797.2" rx="11.6" ry="4.8" stroke-width="1.43" fill="#fff" />
<ellipse cx="267.9" cy="797.2" rx="8.35" ry="3.26" stroke-width="1.56" fill="none" />
<ellipse cx="267.9" cy="797.4" rx="3.94" ry="1.73" stroke-width="2.08" fill="none" />
<path d="M239.66 840.15 L239.66 867.5" stroke-width="1.56" fill="none" />
<path d="M291.61 840.15 L290.88 867.5" stroke-width="1.56" fill="none" />
<path d="M291 867.5 A25.8 12 0 0 1 239.4 867.5" stroke-width="1.56" fill="none" />
<ellipse cx="265.2" cy="840.2" rx="27.3" ry="12.8" stroke-width="1.56" fill="none" />
<ellipse cx="265.2" cy="839.9" rx="25.6" ry="11.6" stroke-width="1.17" fill="none" />
<path d="M243.8 826 A22.6 12.2 0 1 1 288.8 826 L289.4 842 A23 10.6 0 0 1 243.2 842 Z" fill="#fff" stroke-width="1.5"/>
<line x1="288.21" y1="835.4" x2="288.21" y2="844.52" stroke-width="2.21" />
<line x1="287.01" y1="837.06" x2="287.01" y2="846.29" stroke-width="2.21" />
<line x1="285.13" y1="838.6" x2="285.13" y2="847.93" stroke-width="2.21" />
<line x1="282.63" y1="839.97" x2="282.63" y2="849.38" stroke-width="2.21" />
<line x1="279.59" y1="841.13" x2="279.59" y2="850.61" stroke-width="2.21" />
<line x1="276.12" y1="842.03" x2="276.12" y2="851.57" stroke-width="2.21" />
<line x1="272.32" y1="842.65" x2="272.32" y2="852.22" stroke-width="2.21" />
<line x1="268.33" y1="842.96" x2="268.33" y2="852.56" stroke-width="2.21" />
<line x1="264.27" y1="842.96" x2="264.27" y2="852.56" stroke-width="2.21" />
<line x1="260.28" y1="842.65" x2="260.28" y2="852.22" stroke-width="2.21" />
<line x1="256.48" y1="842.03" x2="256.48" y2="851.57" stroke-width="2.21" />
<line x1="253.01" y1="841.13" x2="253.01" y2="850.61" stroke-width="2.21" />
<line x1="249.97" y1="839.97" x2="249.97" y2="849.38" stroke-width="2.21" />
<line x1="247.47" y1="838.6" x2="247.47" y2="847.93" stroke-width="2.21" />
<line x1="245.59" y1="837.06" x2="245.59" y2="846.29" stroke-width="2.21" />
<line x1="244.39" y1="835.4" x2="244.39" y2="844.52" stroke-width="2.21" />
<path d="M288.58 833.82 A22.4 9.8 0 0 1 244.02 833.82" stroke-width="1.17" fill="none" />
<path d="M289.24 842.94 A23 10.6 0 0 1 243.36 842.94" stroke-width="1.3" fill="none" />
<path d="M292.5 840.2 A27.3 12.8 0 0 1 237.9 840.2" stroke-width="1.56" fill="none" />
<path d="M290.24 842.31 A25.6 11.6 0 0 1 240.16 842.31" stroke-width="1.17" fill="none" />
<ellipse cx="266.8" cy="826.2" rx="13.6" ry="5.8" stroke-width="1.56" fill="#fff" />
<path d="M254.4 826.75 A13.2 5.4 0 0 1 279.2 826.75" stroke-width="1.17" fill="none" />
<line x1="256.5" y1="824.2" x2="256.5" y2="829.2" stroke-width="1.3" />
<line x1="259.1" y1="823.36" x2="259.1" y2="829.97" stroke-width="1.3" />
<line x1="261.7" y1="822.64" x2="261.7" y2="830.61" stroke-width="1.3" />
<line x1="264.3" y1="822.17" x2="264.3" y2="831.05" stroke-width="1.3" />
<line x1="266.9" y1="822" x2="266.9" y2="831.2" stroke-width="1.3" />
<line x1="269.5" y1="822.17" x2="269.5" y2="831.05" stroke-width="1.3" />
<line x1="272.1" y1="822.64" x2="272.1" y2="830.61" stroke-width="1.3" />
<line x1="274.7" y1="823.36" x2="274.7" y2="829.97" stroke-width="1.3" />
<line x1="277.3" y1="824.2" x2="277.3" y2="829.2" stroke-width="1.3" />
<path d="M246.95 819.19 C247.71 818.58 249.68 816 251.51 815.55 C253.33 815.09 257.13 815.85 257.89 816.46 C258.65 817.06 255.46 819.34 256.06 819.19 C256.67 819.04 259.56 816.46 261.53 815.55 C263.51 814.63 267 813.42 267.91 813.72 C268.82 814.03 266.09 817.22 267 817.37 C267.91 817.52 271.1 814.79 273.38 814.63 C275.66 814.48 279.76 815.7 280.67 816.46 C281.58 817.22 278.09 818.73 278.85 819.19 C279.61 819.65 283.71 818.43 285.23 819.19 C286.75 819.95 287.51 822.99 287.96 823.75" stroke-width="1.56" fill="none" />
<path d="M245.67 825.57 C246.34 825.94 249.32 826.69 249.68 827.76 C250.05 828.82 247.31 831.4 247.86 831.95 C248.41 832.5 251.9 830.58 252.97 831.04 C254.03 831.49 253.27 834.32 254.24 834.68 C255.21 835.05 257.98 832.86 258.8 833.23 C259.62 833.59 258.25 836.63 259.16 836.87 C260.07 837.12 262.96 834.5 264.27 834.68 C265.57 834.87 265.79 837.97 267 837.97 C268.22 837.97 270.19 834.87 271.56 834.68 C272.93 834.5 274.14 837.12 275.2 836.87 C276.27 836.63 276.72 833.74 277.94 833.23 C279.15 832.71 281.49 834.44 282.5 833.77 C283.5 833.1 283.19 830.22 283.95 829.22 C284.71 828.21 286.54 828 287.05 827.76" stroke-width="1.56" fill="none" />
<path d="M249.68 821.01 C250.35 820.56 252.18 818.67 253.69 818.28 C255.21 817.88 257.95 818.58 258.8 818.64" stroke-width="1.3" fill="none" />
<path d="M271.56 816.09 C272.47 816.15 275.2 815.94 277.03 816.46 C278.85 816.97 281.58 818.73 282.5 819.19" stroke-width="1.3" fill="none" />
<path d="M244.58 822.84 C245.13 822.62 247.01 821.26 247.86 821.56 C248.71 821.86 249.75 823.63 249.68 824.66 C249.62 825.69 247.86 827.24 247.5 827.76" stroke-width="1.82" fill="none" />
<path d="M244.58 823.38 C242.39 823.02 235.16 822.9 231.46 821.2 C227.75 819.49 225.02 816.33 222.34 813.18 C219.67 810.02 217.06 804.43 215.42 802.24 C213.78 800.05 213.9 800.29 212.5 800.05 C211.1 799.81 207.94 800.66 207.03 800.78" stroke-width="1.3" fill="none" />
<path d="M245.13 825.57 C243 825.33 235.86 825.48 232.37 824.11 C228.87 822.75 226.5 820.16 224.17 817.37 C221.83 814.57 219.61 809.99 218.33 807.34 C217.06 804.7 216.81 802.48 216.51 801.51" stroke-width="1.3" fill="none" />
<path d="M207.03 800.78 C208.06 800.48 211.28 798.96 213.23 798.96 C215.17 798.96 216.93 800.72 218.7 800.78 C220.46 800.84 222.95 799.56 223.8 799.32" stroke-width="1.3" fill="none" />
<path d="M255.1 887.4 L255.4 892.6" stroke-width="1.43" fill="none" />
<path d="M277.9 887.4 L277.6 892.6" stroke-width="1.43" fill="none" />
<path d="M277.6 892.6 A11.1 5 0 0 1 255.4 892.6" stroke-width="1.43" fill="none" />
<ellipse cx="266.5" cy="887.4" rx="11.4" ry="5" stroke-width="1.43" fill="#fff" />
<ellipse cx="266.5" cy="887.4" rx="8.21" ry="3.4" stroke-width="1.56" fill="none" />
<ellipse cx="266.5" cy="887.6" rx="3.88" ry="1.8" stroke-width="2.08" fill="none" />
<path d="M254.6 905.6 L254.9 911" stroke-width="1.43" fill="none" />
<path d="M276.8 905.6 L276.5 911" stroke-width="1.43" fill="none" />
<path d="M276.5 911 A10.8 5.2 0 0 1 254.9 911" stroke-width="1.43" fill="none" />
<ellipse cx="265.7" cy="905.6" rx="11.1" ry="5.2" stroke-width="1.43" fill="#fff" />
<ellipse cx="265.7" cy="905.6" rx="7.99" ry="3.54" stroke-width="1.56" fill="none" />
<ellipse cx="265.7" cy="905.8" rx="3.77" ry="1.87" stroke-width="2.08" fill="none" />
<path d="M277.3 918.48 A26 14.8 0 1 1 252.5 918.11" stroke-width="1.95" fill="none" />
<ellipse cx="518.4" cy="209.2" rx="32" ry="14.1" stroke-width="1.56" fill="none" transform="rotate(2.5 518.4 209.2)" />
<line x1="518.8" y1="181" x2="517.9" y2="248" stroke-width="1.3" stroke-dasharray="14 3 2.5 3"/>
<ellipse cx="520.3" cy="243.9" rx="36.9" ry="17.6" stroke-width="1.69" fill="none" transform="rotate(2 520.3 243.9)" />
<ellipse cx="519.8" cy="242.8" rx="33.2" ry="14.6" stroke-width="1.3" fill="none" transform="rotate(2 519.8 242.8)" />
<ellipse cx="519.1" cy="242.6" rx="24.2" ry="10.1" stroke-width="1.56" fill="none" />
<path d="M497.18 244.45 A22 8.6 0 0 1 541.02 244.45" stroke-width="1.3" fill="none" />
<path d="M546.85 247.64 A29 12.4 0 0 1 491.59 246.61" stroke-width="1.17" fill="none" />
<path d="M488.98 237.41 L491.28 237.99" stroke-width="1.82" fill="none" />
<path d="M542.11 232.39 L544.41 232.96" stroke-width="1.82" fill="none" />
<path d="M548.86 245.31 L551.16 245.88" stroke-width="1.82" fill="none" />
<path d="M509.8 254.21 L512.1 254.79" stroke-width="1.82" fill="none" />
<path d="M530.19 253.93 L532.49 254.5" stroke-width="1.82" fill="none" />
<path d="M499.75 230.66 L502.05 231.24" stroke-width="1.82" fill="none" />
<path d="M483.38 248.18 C485.1 249.98 489.84 256.37 493.72 258.95 C497.6 261.54 502.33 262.69 506.64 263.69 C510.95 264.7 515.26 265.03 519.57 264.98 C523.87 264.93 528.06 264.58 532.49 263.4 C536.92 262.23 542.06 260.44 546.13 257.95 C550.2 255.46 555.11 250.05 556.9 248.47" stroke-width="1.69" fill="none" />
<path d="M482.66 246.03 C484.51 247.94 489.72 254.81 493.72 257.52 C497.72 260.22 502.33 261.25 506.64 262.25 C510.95 263.26 515.26 263.59 519.57 263.55 C523.87 263.5 528.06 263.14 532.49 261.97 C536.92 260.79 542.02 259.1 546.13 256.51 C550.25 253.93 555.35 248.13 557.19 246.46" stroke-width="1.04" fill="none" />
<path d="M482.95 243.87 C482.54 247.46 481.11 258.47 480.51 265.41 C479.91 272.35 479.67 276.18 479.36 285.52 C479.05 294.85 478.55 314 478.64 321.42 C478.74 328.83 479.72 328.6 479.93 330.03" stroke-width="1.69" fill="none" />
<path d="M557.19 246.03 C557.28 249.26 557.67 258.83 557.76 265.41 C557.86 272 557.98 276.18 557.76 285.52 C557.55 294.85 557.16 313.88 556.47 321.42 C555.78 328.95 554.08 329.19 553.6 330.75" stroke-width="1.69" fill="none" />
<path d="M493.58 260.82 L491.42 328.88" stroke-width="1.43" fill="none" />
<path d="M495.44 261.11 L493.29 329.17" stroke-width="1.43" fill="none" />
<path d="M516.55 264.84 L515.55 333.19" stroke-width="1.43" fill="none" />
<path d="M518.42 265.13 L517.41 333.48" stroke-width="1.43" fill="none" />
<path d="M539.96 262.54 L541.68 327.45" stroke-width="1.43" fill="none" />
<path d="M541.82 262.83 L543.55 327.73" stroke-width="1.43" fill="none" />
<path d="M479.36 321.54 C481.75 322.86 487.5 327.4 493.72 329.44 C499.94 331.47 509.04 333.63 516.69 333.74 C524.35 333.86 533.26 332.48 539.67 330.16 C546.08 327.83 552.59 321.54 555.18 319.82" stroke-width="1.56" fill="none" />
<path d="M479.93 328.72 C482.23 329.8 487.59 333.6 493.72 335.18 C499.85 336.76 509.04 338.2 516.69 338.2 C524.35 338.2 533.64 337 539.67 335.18 C545.7 333.36 550.68 328.6 552.88 327.28" stroke-width="1.43" fill="none" />
<path d="M480.22 328.72 C480.56 330.44 480.22 336.14 482.23 339.06 C484.24 341.98 486.54 344.47 492.28 346.24 C498.03 348.01 508.56 349.68 516.69 349.68 C524.83 349.68 535.36 348.25 541.11 346.24 C546.85 344.23 549.19 340.78 551.16 337.62 C553.12 334.46 552.59 329.01 552.88 327.28" stroke-width="1.56" fill="none" />
<path d="M492.28 347.1 L493 357.44" stroke-width="1.43" fill="none" />
<path d="M543.26 346.67 L542.54 355.28" stroke-width="1.43" fill="none" />
<path d="M542.34 356.28 A24.8 9.8 0 0 1 493.04 356.96" stroke-width="2.47" fill="none" />
<path d="M549.43 348.51 A35.3 18.4 0 1 1 485.25 347.05" stroke-width="2.6" fill="none" />
<line x1="515.2" y1="353" x2="515.2" y2="369" stroke-width="1.3" stroke-dasharray="14 3 2.5 3"/>
<line x1="515.2" y1="377" x2="514.6" y2="398" stroke-width="1.3" stroke-dasharray="14 3 2.5 3"/>
<line x1="553" y1="373" x2="553" y2="391" stroke-width="3.12" stroke-dasharray="1.3 0.55" stroke-linecap="butt"/>
<line x1="553" y1="371.5" x2="553" y2="373.5" stroke-width="1.56" />
<ellipse cx="553" cy="392.1" rx="2.3" ry="1.1" stroke-width="1.3" fill="#333" />
<ellipse cx="515" cy="400" rx="33.5" ry="19" stroke-width="1.56" fill="#fff" />
<path d="M481.5 400 L481.6 414.2" stroke-width="1.56" fill="none" />
<path d="M548.5 400 L548.4 414.2" stroke-width="1.56" fill="none" />
<path d="M548.38 414.34 A33.4 21.2 0 0 1 481.62 414.34" stroke-width="1.56" fill="none" />
<path d="M546.48 401.9 A31.6 17.2 0 0 1 483.52 401.9" stroke-width="1.3" fill="none" />
<path d="M544.51 402.94 A29.8 15.4 0 0 1 485.49 402.94" stroke-width="1.3" fill="none" />
<ellipse cx="515.2" cy="393.6" rx="25.8" ry="13" stroke-width="1.56" fill="#fff" />
<ellipse cx="515.2" cy="394.4" rx="23.6" ry="11.4" stroke-width="1.17" fill="none" />
<ellipse cx="515.2" cy="395.2" rx="20.2" ry="8.8" stroke-width="1.56" fill="none" />
<path d="M496.49 395.88 A19 7.6 0 0 1 533.91 395.88" stroke-width="1.17" fill="none" />
<path d="M495.44 405.4 L495.44 414.88 L510.66 415.74 L510.66 406.55" stroke-width="1.3" fill="none" />
<path d="M510.95 406.84 L510.95 416.6 L528.18 416.6 L528.18 407.41" stroke-width="1.3" fill="none" />
<path d="M528.18 402.1 L528.18 413.44 L539.96 412.29 L539.96 401.23" stroke-width="1.3" fill="none" />
<path d="M487.98 388.74 L487.98 397.65" stroke-width="1.3" fill="none" />
<path d="M543.26 390.9 L543.26 399.8" stroke-width="1.3" fill="none" />
<path d="M490.13 397.36 L490.13 406.26" stroke-width="1.3" fill="none" />
<path d="M539.67 397.36 L539.67 406.26" stroke-width="1.3" fill="none" />
<path d="M495.16 382.14 L495.16 380.41" stroke-width="1.82" fill="none" />
<path d="M510.95 377.83 L510.95 376.11" stroke-width="1.82" fill="none" />
<path d="M528.18 378.98 L528.18 377.25" stroke-width="1.82" fill="none" />
<path d="M539.67 385.01 L539.67 383.29" stroke-width="1.82" fill="none" />
<path d="M487.98 390.75 L487.98 389.03" stroke-width="1.82" fill="none" />
<path d="M543.26 393.05 L543.26 391.33" stroke-width="1.82" fill="none" />
<line x1="515" y1="378" x2="514.6" y2="399" stroke-width="1.3" />
<ellipse cx="514.5" cy="443.6" rx="5.8" ry="2.6" stroke-width="1.82" fill="none" />
<line x1="514.5" y1="441" x2="514.5" y2="446" stroke-width="1.04" />
<line x1="514.3" y1="446.5" x2="514.3" y2="450.5" stroke-width="1.04" />
<path d="M508.94 452.23 L508.94 484.54 L510.66 485.55 L510.66 495.02" stroke-width="1.43" fill="none" />
<path d="M518.85 452.23 L518.85 484.54 L516.84 485.55 L516.84 495.02" stroke-width="1.43" fill="none" />
<ellipse cx="513.9" cy="452.2" rx="4.9" ry="1.8" stroke-width="1.43" fill="#fff" />
<path d="M510.09 454.39 L510.09 483.82" stroke-width="0.78" fill="none" />
<path d="M511.24 454.39 L511.24 483.82" stroke-width="0.78" fill="none" />
<path d="M512.39 454.39 L512.39 483.82" stroke-width="0.78" fill="none" />
<path d="M516.9 495 A3.1 1.3 0 0 1 510.7 495" stroke-width="1.3" fill="none" />
<path d="M516.9 488.42 A3.1 1 0 0 1 510.7 488.42" stroke-width="1.04" fill="none" />
<path d="M516.9 491.29 A3.1 1 0 0 1 510.7 491.29" stroke-width="1.04" fill="none" />
<path d="M516.9 493.59 A3.1 1 0 0 1 510.7 493.59" stroke-width="1.04" fill="none" />
<line x1="513.2" y1="498.5" x2="513.2" y2="502.5" stroke-width="1.04" />
<ellipse cx="513.1" cy="504.6" rx="8.6" ry="3.8" stroke-width="1.43" fill="#fff" />
<path d="M521.7 508.4 A8.6 3.8 0 0 1 504.5 508.4" stroke-width="1.43" fill="none" />
<path d="M504.49 504.64 L504.49 508.52" stroke-width="1.43" fill="none" />
<path d="M521.72 504.64 L521.72 508.52" stroke-width="1.43" fill="none" />
<path d="M504.63 508.52 C504.97 509.31 505.23 511.97 506.64 513.26 C508.05 514.55 510.95 516.28 513.1 516.28 C515.26 516.28 518.15 514.55 519.57 513.26 C520.98 511.97 521.24 509.31 521.58 508.52" stroke-width="1.43" fill="none" />
<ellipse cx="513.1" cy="508.2" rx="5.2" ry="1.9" stroke-width="1.17" fill="none" />
<path d="M520.39 506.72 A7.4 3 0 0 1 505.81 506.72" stroke-width="1.04" fill="none" />
<line x1="512.4" y1="516.5" x2="512.4" y2="527.5" stroke-width="1.04" />
<line x1="513.6" y1="516.5" x2="513.6" y2="527.5" stroke-width="1.04" />
<ellipse cx="512.7" cy="534.1" rx="31.2" ry="16.2" stroke-width="1.56" fill="#fff" />
<path d="M543.62 538.03 A31 16.2 0 0 1 481.78 538.03" stroke-width="2.47" fill="none" />
<line x1="481.5" y1="534.1" x2="481.7" y2="537.3" stroke-width="1.43" />
<line x1="543.9" y1="534.1" x2="543.7" y2="537.3" stroke-width="1.43" />
<line x1="505" y1="529.9" x2="505" y2="534.9" stroke-width="1.3" />
<line x1="519.8" y1="529.9" x2="519.8" y2="534.9" stroke-width="1.3" />
<path d="M519.8 534.9 A7.4 3 0 0 1 505 534.9" stroke-width="1.3" fill="none" />
<ellipse cx="512.4" cy="529.9" rx="7.4" ry="3" stroke-width="1.3" fill="#fff" />
<ellipse cx="512.4" cy="530.1" rx="4.2" ry="1.6" stroke-width="1.56" fill="none" />
<line x1="512" y1="516.5" x2="512" y2="528.5" stroke-width="1.04" />
<line x1="513.4" y1="516.5" x2="513.4" y2="528.5" stroke-width="1.04" />
<path d="M540.91 550.83 A32 13.6 0 1 1 483.89 550.83" stroke-width="2.02" fill="none" />
<line x1="511.7" y1="558" x2="511.7" y2="583.5" stroke-width="1.17" />
<path d="M533.65 572.7 A35 17 0 1 1 490.55 572.7" stroke-width="1.56" fill="none" />
<path d="M533.78 574.55 A32.4 15 0 1 1 490.42 574.55" stroke-width="1.3" fill="none" />
<path d="M533.68 576.13 A30 13.2 0 1 1 490.52 576.13" stroke-width="1.3" fill="none" />
<path d="M487.5 590.9 A28.4 12 0 0 1 488.84 578.02" stroke-width="1.04" fill="none" />
<path d="M535.36 578.02 A28.4 12 0 0 1 536.7 590.9" stroke-width="1.04" fill="none" />
<line x1="477.1" y1="586.1" x2="478.3" y2="598.6" stroke-width="1.56" />
<line x1="547.1" y1="586.1" x2="546.5" y2="596.6" stroke-width="1.56" />
<path d="M546.48 598.7 A34.1 17.3 0 0 1 478.32 598.7" stroke-width="1.56" fill="none" />
<ellipse cx="511.7" cy="584.5" rx="12.2" ry="7.2" stroke-width="1.56" fill="none" />
<ellipse cx="511.7" cy="585.9" rx="9.4" ry="4.7" stroke-width="1.43" fill="none" />
<path d="M520.78 588.92 A9.4 4.7 0 0 1 502.62 588.92" stroke-width="1.17" fill="none" />
<path d="M528.45 615.94 A31.6 15.4 0 1 1 494.95 615.94" stroke-width="1.56" fill="none" />
<path d="M543.02 632.87 A31.4 15.4 0 0 1 480.38 632.87" stroke-width="2.47" fill="none" />
<line x1="480.1" y1="629" x2="480.3" y2="632.2" stroke-width="1.43" />
<line x1="543.3" y1="629" x2="543.1" y2="632.2" stroke-width="1.43" />
<line x1="504" y1="624.8" x2="504" y2="629.8" stroke-width="1.3" />
<line x1="518.8" y1="624.8" x2="518.8" y2="629.8" stroke-width="1.3" />
<path d="M518.8 629.8 A7.4 3 0 0 1 504 629.8" stroke-width="1.3" fill="none" />
<ellipse cx="511.4" cy="624.8" rx="7.4" ry="3" stroke-width="1.3" fill="#fff" />
<ellipse cx="511.4" cy="625" rx="4.2" ry="1.6" stroke-width="1.56" fill="none" />
<line x1="511.2" y1="617" x2="511.2" y2="622" stroke-width="1.17" />
<path d="M539.71 644.33 A32 13.6 0 1 1 482.69 644.33" stroke-width="2.02" fill="none" />
<line x1="511" y1="652" x2="511" y2="679" stroke-width="1.17" stroke-dasharray="11 3"/>
<path d="M532.75 666.5 A35 17 0 1 1 489.65 666.5" stroke-width="1.56" fill="none" />
<path d="M532.88 668.35 A32.4 15 0 1 1 489.52 668.35" stroke-width="1.3" fill="none" />
<path d="M532.78 669.93 A30 13.2 0 1 1 489.62 669.93" stroke-width="1.3" fill="none" />
<path d="M486.6 684.7 A28.4 12 0 0 1 487.94 671.82" stroke-width="1.04" fill="none" />
<path d="M534.46 671.82 A28.4 12 0 0 1 535.8 684.7" stroke-width="1.04" fill="none" />
<line x1="476.2" y1="679.9" x2="477.4" y2="692.9" stroke-width="1.56" />
<line x1="546.2" y1="679.9" x2="545.6" y2="690.9" stroke-width="1.56" />
<path d="M545.58 693 A34.1 17.3 0 0 1 477.42 693" stroke-width="1.56" fill="none" />
<ellipse cx="510.8" cy="678.3" rx="12.2" ry="7.2" stroke-width="1.56" fill="none" />
<ellipse cx="510.8" cy="679.7" rx="9.4" ry="4.7" stroke-width="1.43" fill="none" />
<path d="M519.88 682.72 A9.4 4.7 0 0 1 501.72 682.72" stroke-width="1.17" fill="none" />
<path d="M526.78 713.35 A31.1 14.8 0 1 1 493.82 713.35" stroke-width="1.56" fill="none" />
<path d="M541.12 729.73 A30.9 14.8 0 0 1 479.48 729.73" stroke-width="2.47" fill="none" />
<line x1="479.2" y1="725.9" x2="479.4" y2="729.1" stroke-width="1.43" />
<line x1="541.4" y1="725.9" x2="541.2" y2="729.1" stroke-width="1.43" />
<line x1="502.6" y1="721.7" x2="502.6" y2="726.7" stroke-width="1.3" />
<line x1="517.4" y1="721.7" x2="517.4" y2="726.7" stroke-width="1.3" />
<path d="M517.4 726.7 A7.4 3 0 0 1 502.6 726.7" stroke-width="1.3" fill="none" />
<ellipse cx="510" cy="721.7" rx="7.4" ry="3" stroke-width="1.3" fill="#fff" />
<ellipse cx="510" cy="721.9" rx="4.2" ry="1.6" stroke-width="1.56" fill="none" />
<line x1="510.3" y1="714" x2="510.3" y2="719" stroke-width="1.17" />
<path d="M538.81 741.23 A32 13.6 0 1 1 481.79 741.23" stroke-width="2.02" fill="none" />
<line x1="509.6" y1="747" x2="509.6" y2="773" stroke-width="1.17" stroke-dasharray="8 4"/>
<path d="M532.13 762.22 A35.2 17.2 0 1 1 486.87 762.22" stroke-width="1.56" fill="none" />
<path d="M532.01 764.07 A32.4 15.2 0 1 1 486.99 764.07" stroke-width="1.3" fill="none" />
<path d="M531.65 765.77 A29.8 13.2 0 1 1 487.35 765.77" stroke-width="1.3" fill="none" />
<line x1="474.3" y1="775.4" x2="475.1" y2="779.2" stroke-width="1.56" />
<line x1="544.7" y1="775.4" x2="543.9" y2="779.2" stroke-width="1.56" />
<path d="M544.35 778.01 A34.9 17.3 0 0 1 474.65 778.01" stroke-width="1.3" fill="none" />
<path d="M543.88 779.81 A34.4 17.4 0 0 1 475.12 779.81" stroke-width="1.56" fill="none" />
<ellipse cx="509.5" cy="774" rx="12.2" ry="7.6" stroke-width="1.56" fill="none" />
<ellipse cx="509.5" cy="776" rx="10" ry="4.4" stroke-width="1.43" fill="none" />
<path d="M519.16 778.54 A10 4.4 0 0 1 499.84 778.54" stroke-width="1.17" fill="none" />
<line x1="508.9" y1="797" x2="508.9" y2="801.5" stroke-width="1.17" />
<ellipse cx="508.9" cy="803.8" rx="6.2" ry="3.5" stroke-width="1.56" fill="none" />
<ellipse cx="508.9" cy="803.8" rx="2.6" ry="1.4" stroke-width="1.56" fill="none" />
<ellipse cx="508.9" cy="816.6" rx="4" ry="4.2" stroke-width="1.56" fill="#444" />
<ellipse cx="508.9" cy="815.6" rx="1.8" ry="1.6" stroke-width="1.04" fill="#fff" />
<line x1="508.9" y1="821.5" x2="508.9" y2="845.6" stroke-width="1.3" />
<g stroke="none" fill="#222">
<circle cx="475.41" cy="841.43" r="0.4"/>
<circle cx="503.26" cy="859.96" r="0.4"/>
<circle cx="518.68" cy="866.97" r="0.4"/>
<circle cx="494.44" cy="859.34" r="0.4"/>
<circle cx="531.37" cy="852.54" r="0.4"/>
<circle cx="510.91" cy="862.76" r="0.4"/>
<circle cx="502.78" cy="855.91" r="0.4"/>
<circle cx="473.98" cy="850.76" r="0.4"/>
<circle cx="475.61" cy="852.69" r="0.4"/>
<circle cx="472.71" cy="838.78" r="0.4"/>
<circle cx="475.48" cy="856.56" r="0.4"/>
<circle cx="500.71" cy="862.54" r="0.4"/>
<circle cx="512.76" cy="863.24" r="0.4"/>
<circle cx="533.27" cy="862.11" r="0.4"/>
<circle cx="498.27" cy="863.28" r="0.4"/>
<circle cx="543.44" cy="852.05" r="0.4"/>
<circle cx="539.36" cy="857.24" r="0.4"/>
<circle cx="537.46" cy="858.28" r="0.4"/>
<circle cx="478.87" cy="848.79" r="0.4"/>
<circle cx="511.14" cy="868.75" r="0.4"/>
<circle cx="536.61" cy="852.38" r="0.4"/>
<circle cx="483.7" cy="856.77" r="0.4"/>
<circle cx="511.48" cy="857.19" r="0.4"/>
<circle cx="535.8" cy="858.75" r="0.4"/>
<circle cx="533.19" cy="854.91" r="0.4"/>
<circle cx="490.7" cy="852.17" r="0.4"/>
<circle cx="518.43" cy="864.22" r="0.4"/>
<circle cx="520.63" cy="858.38" r="0.4"/>
<circle cx="477.44" cy="850.31" r="0.4"/>
<circle cx="540.14" cy="857.37" r="0.4"/>
<circle cx="496.27" cy="858.45" r="0.4"/>
<circle cx="501.51" cy="866.91" r="0.4"/>
<circle cx="539.77" cy="858.78" r="0.4"/>
<circle cx="482.11" cy="859.94" r="0.4"/>
<circle cx="545.5" cy="850.12" r="0.4"/>
<circle cx="544.79" cy="849.68" r="0.4"/>
<circle cx="511.02" cy="866.15" r="0.4"/>
<circle cx="503.97" cy="862.56" r="0.4"/>
<circle cx="515.33" cy="864.45" r="0.4"/>
<circle cx="502.97" cy="865.23" r="0.4"/>
<circle cx="513.21" cy="857.49" r="0.4"/>
<circle cx="513.69" cy="856.08" r="0.4"/>
<circle cx="507.33" cy="866.61" r="0.4"/>
<circle cx="524.14" cy="862.84" r="0.4"/>
<circle cx="513.52" cy="866.71" r="0.4"/>
<circle cx="476.56" cy="850.83" r="0.4"/>
<circle cx="530.58" cy="864.03" r="0.4"/>
<circle cx="482.74" cy="853.53" r="0.4"/>
<circle cx="503.09" cy="864.86" r="0.4"/>
<circle cx="519.22" cy="858.49" r="0.4"/>
<circle cx="513.03" cy="865.75" r="0.4"/>
<circle cx="508.62" cy="860.41" r="0.4"/>
<circle cx="497.05" cy="860.27" r="0.4"/>
<circle cx="476.37" cy="854.97" r="0.4"/>
<circle cx="537.16" cy="850.89" r="0.4"/>
<circle cx="544.92" cy="843.73" r="0.4"/>
<circle cx="525.42" cy="862.99" r="0.4"/>
<circle cx="538.79" cy="848.39" r="0.4"/>
<circle cx="526.77" cy="859.11" r="0.4"/>
<circle cx="509.33" cy="860.43" r="0.4"/>
<circle cx="532.16" cy="859.93" r="0.4"/>
<circle cx="515.39" cy="863.78" r="0.4"/>
<circle cx="522.9" cy="852.21" r="0.4"/>
<circle cx="478.97" cy="860.48" r="0.4"/>
<circle cx="531.63" cy="855.4" r="0.4"/>
<circle cx="522.07" cy="852.15" r="0.4"/>
<circle cx="472.33" cy="838.62" r="0.4"/>
<circle cx="538.4" cy="852.79" r="0.4"/>
<circle cx="488.59" cy="864.07" r="0.4"/>
<circle cx="495.02" cy="860.73" r="0.4"/>
<circle cx="541.41" cy="853.36" r="0.4"/>
<circle cx="478.73" cy="860.41" r="0.4"/>
<circle cx="492.71" cy="866.26" r="0.4"/>
<circle cx="499.37" cy="867.46" r="0.4"/>
<circle cx="538.2" cy="859.09" r="0.4"/>
<circle cx="518.95" cy="864.98" r="0.4"/>
<circle cx="542.49" cy="843.86" r="0.4"/>
<circle cx="493.63" cy="854.86" r="0.4"/>
<circle cx="514.29" cy="863.46" r="0.4"/>
<circle cx="473.45" cy="853.15" r="0.4"/>
<circle cx="500.76" cy="865.76" r="0.4"/>
<circle cx="533.74" cy="861.62" r="0.4"/>
<circle cx="542.55" cy="853.86" r="0.4"/>
<circle cx="520.2" cy="856.36" r="0.4"/>
<circle cx="488.68" cy="865.36" r="0.4"/>
<circle cx="519.36" cy="852.52" r="0.4"/>
<circle cx="543.88" cy="849.39" r="0.4"/>
<circle cx="544.01" cy="852.87" r="0.4"/>
<circle cx="521.72" cy="865.66" r="0.4"/>
<circle cx="531.58" cy="854.87" r="0.4"/>
<circle cx="493.41" cy="867.21" r="0.4"/>
<circle cx="521.56" cy="867.03" r="0.4"/>
<circle cx="498.1" cy="859.65" r="0.4"/>
<circle cx="499.33" cy="865.33" r="0.4"/>
<circle cx="502.22" cy="859.09" r="0.4"/>
<circle cx="527.79" cy="864.12" r="0.4"/>
<circle cx="543.78" cy="847.78" r="0.4"/>
<circle cx="490.93" cy="853.56" r="0.4"/>
<circle cx="540.65" cy="848.77" r="0.4"/>
<circle cx="532" cy="854.83" r="0.4"/>
<circle cx="533.53" cy="856.82" r="0.4"/>
<circle cx="473.57" cy="844.05" r="0.4"/>
<circle cx="527.85" cy="861.13" r="0.4"/>
<circle cx="482.65" cy="863.28" r="0.4"/>
<circle cx="532.44" cy="849.89" r="0.4"/>
<circle cx="507.08" cy="859.51" r="0.4"/>
<circle cx="544.95" cy="845.83" r="0.4"/>
<circle cx="490.76" cy="857.11" r="0.4"/>
<circle cx="483.44" cy="852.33" r="0.4"/>
<circle cx="494.38" cy="867.28" r="0.4"/>
<circle cx="503.21" cy="859.58" r="0.4"/>
<circle cx="501.87" cy="863.2" r="0.4"/>
<circle cx="519.69" cy="864.77" r="0.4"/>
<circle cx="477.77" cy="848.09" r="0.4"/>
<circle cx="510.61" cy="865.68" r="0.4"/>
<circle cx="539.72" cy="847.98" r="0.4"/>
<circle cx="501.74" cy="861.09" r="0.4"/>
<circle cx="526.09" cy="864.04" r="0.4"/>
<circle cx="474.12" cy="844.62" r="0.4"/>
<circle cx="472.78" cy="847.9" r="0.4"/>
<circle cx="529.03" cy="857.24" r="0.4"/>
<circle cx="526.74" cy="857.1" r="0.4"/>
<circle cx="526.64" cy="859.27" r="0.4"/>
<circle cx="508.38" cy="867.49" r="0.4"/>
<circle cx="509.17" cy="865.35" r="0.4"/>
<circle cx="522.66" cy="863.93" r="0.4"/>
<circle cx="483.82" cy="857.52" r="0.4"/>
<circle cx="515.08" cy="863.19" r="0.4"/>
<circle cx="498.38" cy="856.35" r="0.4"/>
<circle cx="509.96" cy="863.94" r="0.4"/>
<circle cx="478.28" cy="849.02" r="0.4"/>
<circle cx="537.22" cy="857.37" r="0.4"/>
<circle cx="542.22" cy="854.54" r="0.4"/>
<circle cx="489.89" cy="864.4" r="0.4"/>
<circle cx="474.34" cy="842.83" r="0.4"/>
<circle cx="475.44" cy="857.17" r="0.4"/>
<circle cx="530.51" cy="853.49" r="0.4"/>
<circle cx="496.5" cy="855.48" r="0.4"/>
<circle cx="523.83" cy="861.03" r="0.4"/>
<circle cx="489.18" cy="864.64" r="0.4"/>
<circle cx="506.68" cy="860.7" r="0.4"/>
<circle cx="524.02" cy="861.74" r="0.4"/>
<circle cx="504.23" cy="854.03" r="0.4"/>
<circle cx="523.97" cy="854.73" r="0.4"/>
<circle cx="476" cy="846.25" r="0.4"/>
<circle cx="498.62" cy="859.42" r="0.4"/>
<circle cx="533.29" cy="863.69" r="0.4"/>
<circle cx="535.43" cy="859.1" r="0.4"/>
<circle cx="519.2" cy="859.85" r="0.4"/>
<circle cx="492.48" cy="853.51" r="0.4"/>
<circle cx="544.26" cy="841.22" r="0.4"/>
<circle cx="535.7" cy="847.86" r="0.4"/>
<circle cx="504.17" cy="856.84" r="0.4"/>
<circle cx="497.36" cy="852.87" r="0.4"/>
<circle cx="508.35" cy="858.21" r="0.4"/>
<circle cx="497.39" cy="860.25" r="0.4"/>
<circle cx="479.35" cy="848.92" r="0.4"/>
<circle cx="477.15" cy="857.7" r="0.4"/>
<circle cx="523.98" cy="857.64" r="0.4"/>
<circle cx="499.83" cy="863.27" r="0.4"/>
<circle cx="511.4" cy="855.76" r="0.4"/>
<circle cx="482.8" cy="860.9" r="0.4"/>
<circle cx="521.32" cy="855.04" r="0.4"/>
<circle cx="524.44" cy="860.93" r="0.4"/>
<circle cx="545.11" cy="854.27" r="0.4"/>
<circle cx="501.33" cy="857.88" r="0.4"/>
<circle cx="481.78" cy="847.02" r="0.4"/>
<circle cx="501.76" cy="854.97" r="0.4"/>
<circle cx="514.62" cy="855.45" r="0.4"/>
<circle cx="525.89" cy="863.04" r="0.4"/>
<circle cx="529.83" cy="852.6" r="0.4"/>
<circle cx="535.79" cy="851.42" r="0.4"/>
<circle cx="530.46" cy="853.36" r="0.4"/>
<circle cx="522.32" cy="865.95" r="0.4"/>
<circle cx="508.23" cy="868.53" r="0.4"/>
<circle cx="473.9" cy="843.51" r="0.4"/>
<circle cx="483.22" cy="857.34" r="0.4"/>
<circle cx="542.48" cy="842.11" r="0.4"/>
<circle cx="478.68" cy="845.32" r="0.4"/>
<circle cx="512.12" cy="853.6" r="0.4"/>
<circle cx="502.19" cy="866.98" r="0.4"/>
<circle cx="500.83" cy="856.24" r="0.4"/>
<circle cx="542.43" cy="842.57" r="0.4"/>
<circle cx="480.83" cy="857.04" r="0.4"/>
<circle cx="532.53" cy="848.79" r="0.4"/>
<circle cx="533.22" cy="859.34" r="0.4"/>
<circle cx="539.84" cy="857.47" r="0.4"/>
<circle cx="481.67" cy="860.22" r="0.4"/>
<circle cx="488.76" cy="857.03" r="0.4"/>
<circle cx="539.71" cy="857.92" r="0.4"/>
<circle cx="483.76" cy="863.69" r="0.4"/>
<circle cx="517.24" cy="857.31" r="0.4"/>
<circle cx="521.8" cy="863.85" r="0.4"/>
<circle cx="530.89" cy="860.65" r="0.4"/>
<circle cx="511.34" cy="855.03" r="0.4"/>
<circle cx="504.33" cy="863.2" r="0.4"/>
<circle cx="512.01" cy="862.05" r="0.4"/>
<circle cx="521.56" cy="860.75" r="0.4"/>
<circle cx="473.17" cy="847.36" r="0.4"/>
<circle cx="522.88" cy="866.03" r="0.4"/>
<circle cx="496.73" cy="861.98" r="0.4"/>
<circle cx="510.94" cy="856.69" r="0.4"/>
<circle cx="509.49" cy="868.55" r="0.4"/>
<circle cx="520.75" cy="857.93" r="0.4"/>
<circle cx="519.25" cy="857.48" r="0.4"/>
<circle cx="474.04" cy="853.92" r="0.4"/>
<circle cx="541.03" cy="847.3" r="0.4"/>
<circle cx="521.01" cy="857.76" r="0.4"/>
<circle cx="540.15" cy="847.48" r="0.4"/>
<circle cx="529.86" cy="865.02" r="0.4"/>
<circle cx="513.72" cy="826.96" r="0.4"/>
<circle cx="540.82" cy="837.9" r="0.4"/>
<circle cx="502.34" cy="817.92" r="0.4"/>
<circle cx="519.98" cy="824.31" r="0.4"/>
<circle cx="525.67" cy="826.05" r="0.4"/>
<circle cx="526.75" cy="822.87" r="0.4"/>
<circle cx="526.46" cy="816.89" r="0.4"/>
<circle cx="532.37" cy="828.43" r="0.4"/>
<circle cx="497.36" cy="816.93" r="0.4"/>
<circle cx="541.81" cy="825.57" r="0.4"/>
<circle cx="506.36" cy="823.98" r="0.4"/>
<circle cx="529.68" cy="825.51" r="0.4"/>
<circle cx="485.38" cy="823.15" r="0.4"/>
<circle cx="530.84" cy="821.06" r="0.4"/>
<circle cx="514.11" cy="827.17" r="0.4"/>
<circle cx="486.28" cy="822.48" r="0.4"/>
<circle cx="505.07" cy="821.26" r="0.4"/>
<circle cx="479.01" cy="830.79" r="0.4"/>
<circle cx="490.53" cy="819.2" r="0.4"/>
<circle cx="507.58" cy="821.78" r="0.4"/>
<circle cx="489.12" cy="820.3" r="0.4"/>
<circle cx="525.51" cy="823.32" r="0.4"/>
<circle cx="518.74" cy="820.28" r="0.4"/>
<circle cx="482.83" cy="827.72" r="0.4"/>
<circle cx="534.81" cy="831.4" r="0.4"/>
<circle cx="521.79" cy="824.25" r="0.4"/>
<circle cx="490.59" cy="823.69" r="0.4"/>
<circle cx="478.41" cy="828.79" r="0.4"/>
<circle cx="526.21" cy="829.02" r="0.4"/>
<circle cx="532.33" cy="831.77" r="0.4"/>
<circle cx="540.31" cy="824.66" r="0.4"/>
<circle cx="514.42" cy="820.01" r="0.4"/>
<circle cx="525.08" cy="823.41" r="0.4"/>
<circle cx="491.82" cy="823.95" r="0.4"/>
<circle cx="532.61" cy="831.44" r="0.4"/>
<circle cx="537.27" cy="827.44" r="0.4"/>
<circle cx="498.9" cy="821.48" r="0.4"/>
<circle cx="524.12" cy="823.31" r="0.4"/>
<circle cx="524.4" cy="817.97" r="0.4"/>
<circle cx="492.25" cy="819.08" r="0.4"/>
<circle cx="501.83" cy="819.94" r="0.4"/>
<circle cx="527.74" cy="821.53" r="0.4"/>
<circle cx="511.34" cy="816.02" r="0.4"/>
<circle cx="519.76" cy="827.41" r="0.4"/>
<circle cx="522.56" cy="827.86" r="0.4"/>
<circle cx="518.22" cy="826.53" r="0.4"/>
<circle cx="543.27" cy="828.68" r="0.4"/>
<circle cx="511.57" cy="820.61" r="0.4"/>
<circle cx="492.91" cy="826.12" r="0.4"/>
<circle cx="494.6" cy="826.05" r="0.4"/>
<circle cx="536.5" cy="825.84" r="0.4"/>
<circle cx="475.71" cy="834.5" r="0.4"/>
<circle cx="479.3" cy="825.06" r="0.4"/>
<circle cx="482.74" cy="831.55" r="0.4"/>
<circle cx="525.95" cy="828.99" r="0.4"/>
<circle cx="485" cy="829.63" r="0.4"/>
<circle cx="515.2" cy="817.1" r="0.4"/>
<circle cx="540.93" cy="830.78" r="0.4"/>
<circle cx="478.52" cy="833.72" r="0.4"/>
<circle cx="483.97" cy="830.45" r="0.4"/>
<circle cx="509.96" cy="818.41" r="0.4"/>
<circle cx="482.89" cy="828.82" r="0.4"/>
<circle cx="485.3" cy="822.58" r="0.4"/>
<circle cx="521.78" cy="823.41" r="0.4"/>
<circle cx="528.72" cy="818.19" r="0.4"/>
<circle cx="529.56" cy="830.72" r="0.4"/>
<circle cx="483.88" cy="827.46" r="0.4"/>
<circle cx="533.01" cy="829.61" r="0.4"/>
<circle cx="525.6" cy="824.84" r="0.4"/>
<circle cx="489.5" cy="822.06" r="0.4"/>
<circle cx="498.24" cy="822.82" r="0.4"/>
<circle cx="544.84" cy="828.86" r="0.4"/>
<circle cx="513.68" cy="818.66" r="0.4"/>
<circle cx="497.69" cy="826.21" r="0.4"/>
<circle cx="485.53" cy="828.45" r="0.4"/>
<circle cx="478.04" cy="827.64" r="0.4"/>
<circle cx="534.46" cy="819.41" r="0.4"/>
<circle cx="532.18" cy="821.23" r="0.4"/>
<circle cx="509.37" cy="825.18" r="0.4"/>
<circle cx="505.4" cy="819.59" r="0.4"/>
<circle cx="524.69" cy="827.12" r="0.4"/>
<circle cx="498.97" cy="826.28" r="0.4"/>
<circle cx="517.22" cy="824.33" r="0.4"/>
<circle cx="500.64" cy="816.99" r="0.4"/>
<circle cx="493.57" cy="815.82" r="0.4"/>
<circle cx="494.66" cy="825.13" r="0.4"/>
<circle cx="481.04" cy="828.04" r="0.4"/>
<circle cx="524.14" cy="826.41" r="0.4"/>
<circle cx="535.35" cy="832.42" r="0.4"/>
<circle cx="518.79" cy="822.54" r="0.4"/>
<circle cx="483.31" cy="823.49" r="0.4"/>
<circle cx="473.98" cy="830.03" r="0.4"/>
<circle cx="519.51" cy="822.42" r="0.4"/>
<circle cx="525.46" cy="826.77" r="0.4"/>
<circle cx="527.96" cy="817" r="0.4"/>
</g>
<path d="M518.75 813.57 A36.9 19.7 0 1 1 499.65 813.57" stroke-width="1.56" fill="none" />
<path d="M476.69 840.74 A34.6 18.9 0 0 1 541.71 840.74" stroke-width="1.3" fill="none" />
<path d="M472.32 833.39 L472.32 851.97" stroke-width="1.56" fill="none" />
<path d="M546.02 832.76 L546.02 853.86" stroke-width="1.56" fill="none" />
<path d="M545.9 851.6 A36.7 18.2 0 0 1 489.75 867.03" stroke-width="1.56" fill="none" />
<path d="M484.17 864.91 A36.7 18.2 0 0 1 472.5 851.6" stroke-width="1.56" fill="none" />
<path d="M484.13 847.24 L484.13 862.36" stroke-width="1.43" fill="none" />
<path d="M488.07 849.13 L488.07 864.88" stroke-width="1.43" fill="none" />
<ellipse cx="508.1" cy="894.2" rx="41.2" ry="22.5" stroke-width="1.69" fill="#fff" />
<ellipse cx="508.1" cy="894.6" rx="39.3" ry="20.8" stroke-width="1.3" fill="none" />
<path d="M466.9 894.2 L467.1 914" stroke-width="1.56" fill="none" />
<path d="M549.3 894.2 L549.1 914" stroke-width="1.56" fill="none" />
<path d="M549.08 914 A41 22.8 0 0 1 467.12 914" stroke-width="1.69" fill="none" />
<path d="M542.27 895.98 A34 15.8 0 0 1 474.53 895.98" stroke-width="1.3" fill="none" />
<path d="M479.27 884.35 A31 13.6 0 0 1 537.53 884.35" stroke-width="1.17" fill="none" />
<path d="M478.62 878.43 L478.62 894.17" stroke-width="1.3" fill="none" />
<path d="M486.5 878.43 L486.5 894.17" stroke-width="1.3" fill="none" />
<ellipse cx="482.56" cy="878.43" rx="3.94" ry="1.6" stroke-width="1.3" fill="#fff" />
<path d="M486.5 894.17 A3.94 1.6 0 0 1 478.62 894.17" stroke-width="1.3" fill="none" />
<path d="M486.5 886.3 A3.94 1.4 0 0 1 478.62 886.3" stroke-width="1.04" fill="none" />
<path d="M529.02 880 L529.02 897.32" stroke-width="1.3" fill="none" />
<path d="M537.68 880 L537.68 897.32" stroke-width="1.3" fill="none" />
<ellipse cx="533.35" cy="880" rx="4.33" ry="1.6" stroke-width="1.3" fill="#fff" />
<path d="M537.68 897.32 A4.33 1.6 0 0 1 529.02 897.32" stroke-width="1.3" fill="none" />
<path d="M537.68 888.66 A4.33 1.4 0 0 1 529.02 888.66" stroke-width="1.04" fill="none" />
<path d="M506.18 873.7 L506.18 894.49" stroke-width="1.3" fill="none" />
<path d="M510.12 873.7 L510.12 894.49" stroke-width="1.3" fill="none" />
<line x1="508.2" y1="876" x2="508.2" y2="898" stroke-width="1.04" />
<path d="M488.07 883.78 C489.51 883.46 493.85 882.34 496.73 881.89 C499.62 881.44 503.95 881.23 505.39 881.1" stroke-width="1.17" fill="none" />
<path d="M511.69 880.63 C513.27 880.89 518.31 881.47 521.14 882.2 C523.98 882.94 527.44 884.57 528.7 885.04" stroke-width="1.17" fill="none" />
<path d="M475.47 894.49 C476.26 893.44 479.67 889.63 480.2 888.19 C480.72 886.75 478.88 886.22 478.62 885.83" stroke-width="1.17" fill="none" />
<path d="M543.19 894.49 C542.8 893.83 541.67 891.6 540.83 890.55 C539.99 889.5 538.6 888.58 538.15 888.19" stroke-width="1.17" fill="none" />
<ellipse cx="507.44" cy="902.36" rx="4.6" ry="2.3" stroke-width="1.43" fill="none" />
<ellipse cx="482.56" cy="903.15" rx="1.5" ry="1" stroke-width="1.3" fill="none" />
<ellipse cx="506.18" cy="908.66" rx="1.5" ry="1" stroke-width="1.3" fill="none" />
<ellipse cx="531.38" cy="904.72" rx="1.5" ry="1" stroke-width="1.3" fill="none" />
<ellipse cx="472.32" cy="890.55" rx="1.5" ry="1" stroke-width="1.3" fill="none" />
<ellipse cx="545.55" cy="892.91" rx="1.5" ry="1" stroke-width="1.3" fill="none" />
<ellipse cx="506.2" cy="940.6" rx="4.5" ry="2" stroke-width="1.43" fill="none" />
<path d="M501.93 940.63 C501.88 941.21 501.93 943.12 501.61 944.09 C501.3 945.07 500.28 945.67 500.04 946.46 C499.8 947.24 500.17 948.43 500.2 948.82" stroke-width="1.43" fill="none" />
<path d="M510.91 940.63 C510.96 941.21 510.91 943.12 511.22 944.09 C511.54 945.07 512.56 945.67 512.8 946.46 C513.03 947.24 512.66 948.43 512.64 948.82" stroke-width="1.43" fill="none" />
<path d="M512.8 943.8 A6.4 2.6 0 0 1 500 943.8" stroke-width="1.3" fill="none" />
<path d="M512.7 947.6 A6.3 3.2 0 0 1 500.1 947.6" stroke-width="1.56" fill="none" />
<line x1="449" y1="957" x2="495.6" y2="949.3" stroke-width="1.43" />
<line x1="530.6" y1="939" x2="530.6" y2="957" stroke-width="3.12" stroke-dasharray="1.3 0.55" stroke-linecap="butt"/>
<line x1="530.6" y1="937.5" x2="530.6" y2="939.5" stroke-width="1.56" />
<ellipse cx="530.6" cy="958.1" rx="2.3" ry="1.1" stroke-width="1.3" fill="#333" />
<line x1="251.63" y1="824.42" x2="248.03" y2="821.87" stroke-width="1.69" />
<line x1="254.3" y1="821.6" x2="252.92" y2="818.26" stroke-width="1.69" />
<line x1="259.46" y1="819.6" x2="260.58" y2="816.05" stroke-width="1.69" />
<line x1="266.07" y1="818.8" x2="269.46" y2="815.7" stroke-width="1.69" />
<line x1="272.78" y1="819.39" x2="277.76" y2="817.27" stroke-width="1.69" />
<line x1="278.24" y1="821.23" x2="283.8" y2="820.45" stroke-width="1.69" />
<line x1="281.35" y1="823.95" x2="286.36" y2="824.58" stroke-width="1.69" />
<line x1="281.47" y1="827.01" x2="284.92" y2="828.84" stroke-width="1.69" />
<line x1="278.58" y1="829.79" x2="279.77" y2="832.37" stroke-width="1.69" />
<line x1="254.62" y1="829.79" x2="249.07" y2="829.66" stroke-width="1.69" />
<line x1="251.73" y1="827.01" x2="246.81" y2="825.48" stroke-width="1.69" />
</svg>
</body></html>
